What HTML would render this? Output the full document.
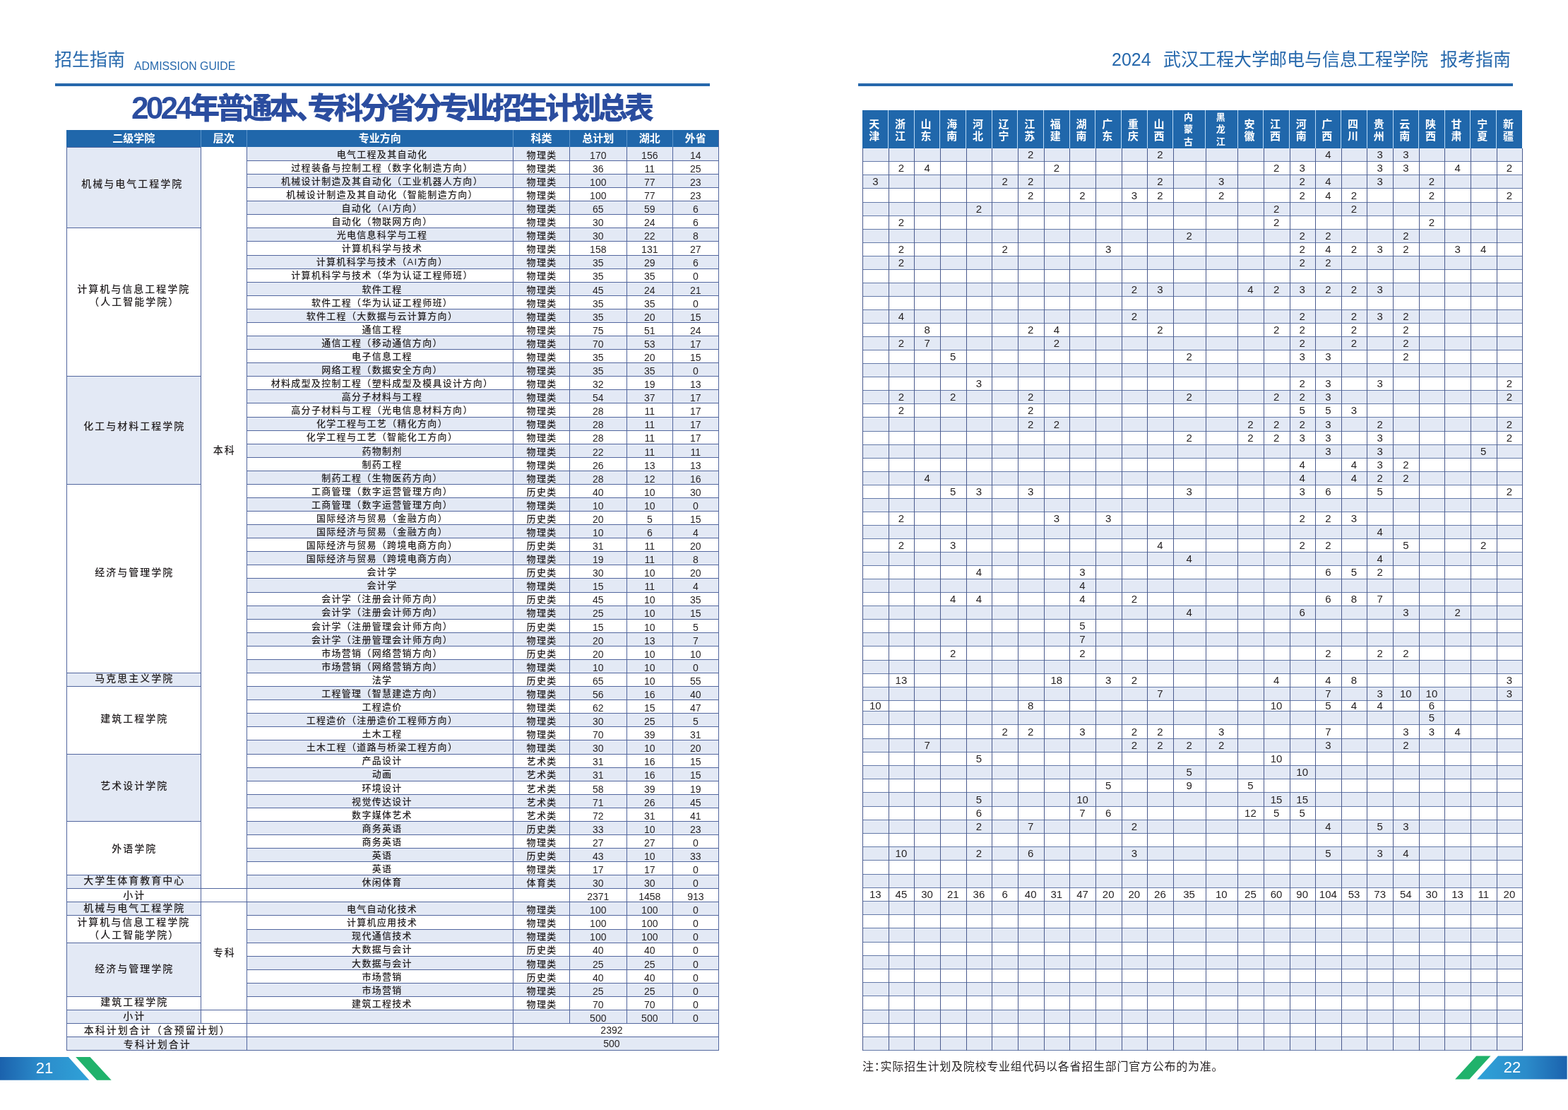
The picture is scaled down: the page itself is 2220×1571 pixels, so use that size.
<!DOCTYPE html>
<html><head><meta charset="utf-8"><title>2024年普通本、专科分省分专业招生计划总表</title>
<style>
html,body{margin:0;padding:0;background:#fff}
body{width:2220px;height:1571px;position:relative;overflow:hidden;font-family:"Liberation Sans","Noto Sans CJK SC",sans-serif;color:#231f20}
.b{position:absolute}
.t{position:absolute;text-align:center;white-space:nowrap}
.hd{color:#fff;font-weight:700;font-size:15px}
.gp{font-size:14px;letter-spacing:2px;font-weight:500}
.gp span{margin-right:-2px}
.two{line-height:18px!important;white-space:normal}
.mj{font-size:13px;letter-spacing:1.3px;font-weight:500}
.mj span{margin-right:-1.3px}
.num{font-size:14px}
.rn{font-size:15px}
.ph{color:#fff;font-weight:700;font-size:15px;white-space:normal}
.hdr{position:absolute;color:#2668ac;white-space:nowrap}
</style></head><body>
<div class="hdr" style="left:77px;top:67px;font-size:25px;line-height:34px">招生指南</div>
<div class="hdr" style="left:190px;top:84px;font-size:17px;line-height:20px;transform:scaleX(0.93);transform-origin:0 0">ADMISSION GUIDE</div>
<div class="b" style="left:78px;top:118px;width:927px;height:3.5px;background:#2668ac"></div>
<div class="hdr" style="left:186px;top:127px;font-size:42px;line-height:52px;font-weight:900;color:#2b4d9f"><span style="font-size:44.4px;letter-spacing:-3.9px;font-weight:700">2024</span><span style="letter-spacing:-4.6px;font-feature-settings:'palt'">年普通本、专科分省分专业招生计划总表</span></div>
<div class="hdr" style="left:1574px;top:67px;font-size:25px;line-height:34px">2024</div>
<div class="hdr" style="left:1647px;top:67px;font-size:25px;line-height:34px">武汉工程大学邮电与信息工程学院</div>
<div class="hdr" style="left:2039px;top:67px;font-size:25px;line-height:34px">报考指南</div>
<div class="b" style="left:1215px;top:118px;width:927px;height:3.5px;background:#2668ac"></div>
<div class="b" style="left:94.2px;top:184.1px;width:923.2px;height:24.3px;background:#2067ab;"></div>
<div class="b" style="left:283.8px;top:184.1px;width:1px;height:24.3px;background:#5b94cb"></div>
<div class="b" style="left:348.7px;top:184.1px;width:1px;height:24.3px;background:#5b94cb"></div>
<div class="b" style="left:726px;top:184.1px;width:1px;height:24.3px;background:#5b94cb"></div>
<div class="b" style="left:805.8px;top:184.1px;width:1px;height:24.3px;background:#5b94cb"></div>
<div class="b" style="left:886.8px;top:184.1px;width:1px;height:24.3px;background:#5b94cb"></div>
<div class="b" style="left:951.8px;top:184.1px;width:1px;height:24.3px;background:#5b94cb"></div>
<div class="t hd" style="left:94.2px;width:190.1px;top:185px;height:22px;line-height:22px;"><span>二级学院</span></div>
<div class="t hd" style="left:284.3px;width:64.9px;top:185px;height:22px;line-height:22px;"><span>层次</span></div>
<div class="t hd" style="left:349.2px;width:377.3px;top:185px;height:22px;line-height:22px;"><span>专业方向</span></div>
<div class="t hd" style="left:726.5px;width:79.8px;top:185px;height:22px;line-height:22px;"><span>科类</span></div>
<div class="t hd" style="left:806.3px;width:81px;top:185px;height:22px;line-height:22px;"><span>总计划</span></div>
<div class="t hd" style="left:887.3px;width:65px;top:185px;height:22px;line-height:22px;"><span>湖北</span></div>
<div class="t hd" style="left:952.3px;width:65.1px;top:185px;height:22px;line-height:22px;"><span>外省</span></div>
<div class="b" style="left:349.2px;top:208.4px;width:668.2px;height:19.08px;background:#e3e9f5;"></div>
<div class="b" style="left:349.2px;top:246.56px;width:668.2px;height:19.08px;background:#e3e9f5;"></div>
<div class="b" style="left:349.2px;top:284.72px;width:668.2px;height:19.08px;background:#e3e9f5;"></div>
<div class="b" style="left:349.2px;top:322.88px;width:668.2px;height:19.08px;background:#e3e9f5;"></div>
<div class="b" style="left:349.2px;top:361.04px;width:668.2px;height:19.08px;background:#e3e9f5;"></div>
<div class="b" style="left:349.2px;top:399.2px;width:668.2px;height:19.08px;background:#e3e9f5;"></div>
<div class="b" style="left:349.2px;top:437.36px;width:668.2px;height:19.08px;background:#e3e9f5;"></div>
<div class="b" style="left:349.2px;top:475.52px;width:668.2px;height:19.08px;background:#e3e9f5;"></div>
<div class="b" style="left:349.2px;top:513.68px;width:668.2px;height:19.08px;background:#e3e9f5;"></div>
<div class="b" style="left:349.2px;top:551.84px;width:668.2px;height:19.08px;background:#e3e9f5;"></div>
<div class="b" style="left:349.2px;top:590px;width:668.2px;height:19.08px;background:#e3e9f5;"></div>
<div class="b" style="left:349.2px;top:628.16px;width:668.2px;height:19.08px;background:#e3e9f5;"></div>
<div class="b" style="left:349.2px;top:666.32px;width:668.2px;height:19.08px;background:#e3e9f5;"></div>
<div class="b" style="left:349.2px;top:704.48px;width:668.2px;height:19.08px;background:#e3e9f5;"></div>
<div class="b" style="left:349.2px;top:742.64px;width:668.2px;height:19.08px;background:#e3e9f5;"></div>
<div class="b" style="left:349.2px;top:780.8px;width:668.2px;height:19.08px;background:#e3e9f5;"></div>
<div class="b" style="left:349.2px;top:818.96px;width:668.2px;height:19.08px;background:#e3e9f5;"></div>
<div class="b" style="left:349.2px;top:857.12px;width:668.2px;height:19.08px;background:#e3e9f5;"></div>
<div class="b" style="left:349.2px;top:895.28px;width:668.2px;height:19.08px;background:#e3e9f5;"></div>
<div class="b" style="left:349.2px;top:933.44px;width:668.2px;height:19.08px;background:#e3e9f5;"></div>
<div class="b" style="left:349.2px;top:971.6px;width:668.2px;height:19.08px;background:#e3e9f5;"></div>
<div class="b" style="left:349.2px;top:1009.76px;width:668.2px;height:19.08px;background:#e3e9f5;"></div>
<div class="b" style="left:349.2px;top:1047.92px;width:668.2px;height:19.08px;background:#e3e9f5;"></div>
<div class="b" style="left:349.2px;top:1086.08px;width:668.2px;height:19.08px;background:#e3e9f5;"></div>
<div class="b" style="left:349.2px;top:1124.24px;width:668.2px;height:19.08px;background:#e3e9f5;"></div>
<div class="b" style="left:349.2px;top:1162.4px;width:668.2px;height:19.08px;background:#e3e9f5;"></div>
<div class="b" style="left:349.2px;top:1200.56px;width:668.2px;height:19.08px;background:#e3e9f5;"></div>
<div class="b" style="left:349.2px;top:1238.72px;width:668.2px;height:19.08px;background:#e3e9f5;"></div>
<div class="b" style="left:349.2px;top:1276.88px;width:668.2px;height:19.08px;background:#e3e9f5;"></div>
<div class="b" style="left:349.2px;top:1315.04px;width:668.2px;height:19.08px;background:#e3e9f5;"></div>
<div class="b" style="left:349.2px;top:1353.2px;width:668.2px;height:19.08px;background:#e3e9f5;"></div>
<div class="b" style="left:349.2px;top:1391.36px;width:668.2px;height:19.08px;background:#e3e9f5;"></div>
<div class="b" style="left:349.2px;top:1429.52px;width:668.2px;height:19.08px;background:#e3e9f5;"></div>
<div class="b" style="left:349.2px;top:1467.68px;width:668.2px;height:19.08px;background:#e3e9f5;"></div>
<div class="b" style="left:94.2px;top:208.4px;width:190.1px;height:114.48px;background:#e3e9f5;"></div>
<div class="b" style="left:94.2px;top:532.76px;width:190.1px;height:152.64px;background:#e3e9f5;"></div>
<div class="b" style="left:94.2px;top:952.52px;width:190.1px;height:19.08px;background:#e3e9f5;"></div>
<div class="b" style="left:94.2px;top:1067px;width:190.1px;height:95.4px;background:#e3e9f5;"></div>
<div class="b" style="left:94.2px;top:1238.72px;width:190.1px;height:19.08px;background:#e3e9f5;"></div>
<div class="b" style="left:94.2px;top:1276.88px;width:190.1px;height:19.08px;background:#e3e9f5;"></div>
<div class="b" style="left:94.2px;top:1334.12px;width:190.1px;height:76.32px;background:#e3e9f5;"></div>
<div class="b" style="left:94.2px;top:1429.52px;width:190.1px;height:19.08px;background:#e3e9f5;"></div>
<div class="b" style="left:94.2px;top:1467.68px;width:255px;height:19.08px;background:#e3e9f5;"></div>
<div class="b" style="left:349.2px;top:226.98px;width:668.2px;height:1px;background:#52669e"></div>
<div class="b" style="left:349.2px;top:246.06px;width:668.2px;height:1px;background:#52669e"></div>
<div class="b" style="left:349.2px;top:265.14px;width:668.2px;height:1px;background:#52669e"></div>
<div class="b" style="left:349.2px;top:284.22px;width:668.2px;height:1px;background:#52669e"></div>
<div class="b" style="left:349.2px;top:303.3px;width:668.2px;height:1px;background:#52669e"></div>
<div class="b" style="left:349.2px;top:322.38px;width:668.2px;height:1px;background:#52669e"></div>
<div class="b" style="left:349.2px;top:341.46px;width:668.2px;height:1px;background:#52669e"></div>
<div class="b" style="left:349.2px;top:360.54px;width:668.2px;height:1px;background:#52669e"></div>
<div class="b" style="left:349.2px;top:379.62px;width:668.2px;height:1px;background:#52669e"></div>
<div class="b" style="left:349.2px;top:398.7px;width:668.2px;height:1px;background:#52669e"></div>
<div class="b" style="left:349.2px;top:417.78px;width:668.2px;height:1px;background:#52669e"></div>
<div class="b" style="left:349.2px;top:436.86px;width:668.2px;height:1px;background:#52669e"></div>
<div class="b" style="left:349.2px;top:455.94px;width:668.2px;height:1px;background:#52669e"></div>
<div class="b" style="left:349.2px;top:475.02px;width:668.2px;height:1px;background:#52669e"></div>
<div class="b" style="left:349.2px;top:494.1px;width:668.2px;height:1px;background:#52669e"></div>
<div class="b" style="left:349.2px;top:513.18px;width:668.2px;height:1px;background:#52669e"></div>
<div class="b" style="left:349.2px;top:532.26px;width:668.2px;height:1px;background:#52669e"></div>
<div class="b" style="left:349.2px;top:551.34px;width:668.2px;height:1px;background:#52669e"></div>
<div class="b" style="left:349.2px;top:570.42px;width:668.2px;height:1px;background:#52669e"></div>
<div class="b" style="left:349.2px;top:589.5px;width:668.2px;height:1px;background:#52669e"></div>
<div class="b" style="left:349.2px;top:608.58px;width:668.2px;height:1px;background:#52669e"></div>
<div class="b" style="left:349.2px;top:627.66px;width:668.2px;height:1px;background:#52669e"></div>
<div class="b" style="left:349.2px;top:646.74px;width:668.2px;height:1px;background:#52669e"></div>
<div class="b" style="left:349.2px;top:665.82px;width:668.2px;height:1px;background:#52669e"></div>
<div class="b" style="left:349.2px;top:684.9px;width:668.2px;height:1px;background:#52669e"></div>
<div class="b" style="left:349.2px;top:703.98px;width:668.2px;height:1px;background:#52669e"></div>
<div class="b" style="left:349.2px;top:723.06px;width:668.2px;height:1px;background:#52669e"></div>
<div class="b" style="left:349.2px;top:742.14px;width:668.2px;height:1px;background:#52669e"></div>
<div class="b" style="left:349.2px;top:761.22px;width:668.2px;height:1px;background:#52669e"></div>
<div class="b" style="left:349.2px;top:780.3px;width:668.2px;height:1px;background:#52669e"></div>
<div class="b" style="left:349.2px;top:799.38px;width:668.2px;height:1px;background:#52669e"></div>
<div class="b" style="left:349.2px;top:818.46px;width:668.2px;height:1px;background:#52669e"></div>
<div class="b" style="left:349.2px;top:837.54px;width:668.2px;height:1px;background:#52669e"></div>
<div class="b" style="left:349.2px;top:856.62px;width:668.2px;height:1px;background:#52669e"></div>
<div class="b" style="left:349.2px;top:875.7px;width:668.2px;height:1px;background:#52669e"></div>
<div class="b" style="left:349.2px;top:894.78px;width:668.2px;height:1px;background:#52669e"></div>
<div class="b" style="left:349.2px;top:913.86px;width:668.2px;height:1px;background:#52669e"></div>
<div class="b" style="left:349.2px;top:932.94px;width:668.2px;height:1px;background:#52669e"></div>
<div class="b" style="left:349.2px;top:952.02px;width:668.2px;height:1px;background:#52669e"></div>
<div class="b" style="left:349.2px;top:971.1px;width:668.2px;height:1px;background:#52669e"></div>
<div class="b" style="left:349.2px;top:990.18px;width:668.2px;height:1px;background:#52669e"></div>
<div class="b" style="left:349.2px;top:1009.26px;width:668.2px;height:1px;background:#52669e"></div>
<div class="b" style="left:349.2px;top:1028.34px;width:668.2px;height:1px;background:#52669e"></div>
<div class="b" style="left:349.2px;top:1047.42px;width:668.2px;height:1px;background:#52669e"></div>
<div class="b" style="left:349.2px;top:1066.5px;width:668.2px;height:1px;background:#52669e"></div>
<div class="b" style="left:349.2px;top:1085.58px;width:668.2px;height:1px;background:#52669e"></div>
<div class="b" style="left:349.2px;top:1104.66px;width:668.2px;height:1px;background:#52669e"></div>
<div class="b" style="left:349.2px;top:1123.74px;width:668.2px;height:1px;background:#52669e"></div>
<div class="b" style="left:349.2px;top:1142.82px;width:668.2px;height:1px;background:#52669e"></div>
<div class="b" style="left:349.2px;top:1161.9px;width:668.2px;height:1px;background:#52669e"></div>
<div class="b" style="left:349.2px;top:1180.98px;width:668.2px;height:1px;background:#52669e"></div>
<div class="b" style="left:349.2px;top:1200.06px;width:668.2px;height:1px;background:#52669e"></div>
<div class="b" style="left:349.2px;top:1219.14px;width:668.2px;height:1px;background:#52669e"></div>
<div class="b" style="left:349.2px;top:1238.22px;width:668.2px;height:1px;background:#52669e"></div>
<div class="b" style="left:349.2px;top:1257.3px;width:668.2px;height:1px;background:#52669e"></div>
<div class="b" style="left:349.2px;top:1276.38px;width:668.2px;height:1px;background:#52669e"></div>
<div class="b" style="left:349.2px;top:1295.46px;width:668.2px;height:1px;background:#52669e"></div>
<div class="b" style="left:349.2px;top:1314.54px;width:668.2px;height:1px;background:#52669e"></div>
<div class="b" style="left:349.2px;top:1333.62px;width:668.2px;height:1px;background:#52669e"></div>
<div class="b" style="left:349.2px;top:1352.7px;width:668.2px;height:1px;background:#52669e"></div>
<div class="b" style="left:349.2px;top:1371.78px;width:668.2px;height:1px;background:#52669e"></div>
<div class="b" style="left:349.2px;top:1390.86px;width:668.2px;height:1px;background:#52669e"></div>
<div class="b" style="left:349.2px;top:1409.94px;width:668.2px;height:1px;background:#52669e"></div>
<div class="b" style="left:349.2px;top:1429.02px;width:668.2px;height:1px;background:#52669e"></div>
<div class="b" style="left:349.2px;top:1448.1px;width:668.2px;height:1px;background:#52669e"></div>
<div class="b" style="left:349.2px;top:1467.18px;width:668.2px;height:1px;background:#52669e"></div>
<div class="b" style="left:94.2px;top:207.9px;width:190.1px;height:1px;background:#52669e"></div>
<div class="b" style="left:94.2px;top:322.38px;width:190.1px;height:1px;background:#52669e"></div>
<div class="b" style="left:94.2px;top:532.26px;width:190.1px;height:1px;background:#52669e"></div>
<div class="b" style="left:94.2px;top:684.9px;width:190.1px;height:1px;background:#52669e"></div>
<div class="b" style="left:94.2px;top:952.02px;width:190.1px;height:1px;background:#52669e"></div>
<div class="b" style="left:94.2px;top:971.1px;width:190.1px;height:1px;background:#52669e"></div>
<div class="b" style="left:94.2px;top:1066.5px;width:190.1px;height:1px;background:#52669e"></div>
<div class="b" style="left:94.2px;top:1161.9px;width:190.1px;height:1px;background:#52669e"></div>
<div class="b" style="left:94.2px;top:1238.22px;width:190.1px;height:1px;background:#52669e"></div>
<div class="b" style="left:94.2px;top:1257.3px;width:190.1px;height:1px;background:#52669e"></div>
<div class="b" style="left:94.2px;top:1276.38px;width:190.1px;height:1px;background:#52669e"></div>
<div class="b" style="left:94.2px;top:1295.46px;width:190.1px;height:1px;background:#52669e"></div>
<div class="b" style="left:94.2px;top:1333.62px;width:190.1px;height:1px;background:#52669e"></div>
<div class="b" style="left:94.2px;top:1409.94px;width:190.1px;height:1px;background:#52669e"></div>
<div class="b" style="left:94.2px;top:1429.02px;width:190.1px;height:1px;background:#52669e"></div>
<div class="b" style="left:94.2px;top:1448.1px;width:255px;height:1px;background:#52669e"></div>
<div class="b" style="left:94.2px;top:1467.18px;width:255px;height:1px;background:#52669e"></div>
<div class="b" style="left:284.3px;top:1257.3px;width:64.9px;height:1px;background:#52669e"></div>
<div class="b" style="left:284.3px;top:1276.38px;width:64.9px;height:1px;background:#52669e"></div>
<div class="b" style="left:284.3px;top:1429.02px;width:64.9px;height:1px;background:#52669e"></div>
<div class="b" style="left:94.2px;top:1486.26px;width:923.2px;height:1px;background:#52669e"></div>
<div class="b" style="left:93.7px;top:208.4px;width:1px;height:1278.36px;background:#52669e"></div>
<div class="b" style="left:1016.9px;top:184.1px;width:1px;height:1302.66px;background:#52669e"></div>
<div class="b" style="left:283.8px;top:208.4px;width:1px;height:1240.2px;background:#52669e"></div>
<div class="b" style="left:348.7px;top:208.4px;width:1px;height:1278.36px;background:#52669e"></div>
<div class="b" style="left:726px;top:208.4px;width:1px;height:1278.36px;background:#52669e"></div>
<div class="b" style="left:805.8px;top:208.4px;width:1px;height:1240.2px;background:#52669e"></div>
<div class="b" style="left:886.8px;top:208.4px;width:1px;height:1240.2px;background:#52669e"></div>
<div class="b" style="left:951.8px;top:208.4px;width:1px;height:1240.2px;background:#52669e"></div>
<div class="t gp" style="left:91.2px;width:190.1px;top:249.8px;height:20px;line-height:20px;"><span>机械与电气工程学院</span></div>
<div class="t gp two" style="left:94.2px;width:190.1px;top:399.6px;height:36px;line-height:36px;"><span>计算机与信息工程学院<br>（人工智能学院）</span></div>
<div class="t gp" style="left:94.2px;width:190.1px;top:592.7px;height:20px;line-height:20px;"><span>化工与材料工程学院</span></div>
<div class="t gp" style="left:94.2px;width:190.1px;top:799.6px;height:20px;line-height:20px;"><span>经济与管理学院</span></div>
<div class="t gp" style="left:94.2px;width:190.1px;top:950.3px;height:20px;line-height:20px;"><span>马克思主义学院</span></div>
<div class="t gp" style="left:94.2px;width:190.1px;top:1007.2px;height:20px;line-height:20px;"><span>建筑工程学院</span></div>
<div class="t gp" style="left:94.2px;width:190.1px;top:1101.9px;height:20px;line-height:20px;"><span>艺术设计学院</span></div>
<div class="t gp" style="left:94.2px;width:190.1px;top:1191.1px;height:20px;line-height:20px;"><span>外语学院</span></div>
<div class="t gp" style="left:94.2px;width:190.1px;top:1236.4px;height:20px;line-height:20px;"><span>大学生体育教育中心</span></div>
<div class="t gp" style="left:94.2px;width:190.1px;top:1257px;height:20px;line-height:20px;"><span>小计</span></div>
<div class="t gp" style="left:94.2px;width:190.1px;top:1274.7px;height:20px;line-height:20px;"><span>机械与电气工程学院</span></div>
<div class="t gp two" style="left:94.2px;width:190.1px;top:1296.4px;height:36px;line-height:36px;"><span>计算机与信息工程学院<br>（人工智能学院）</span></div>
<div class="t gp" style="left:94.2px;width:190.1px;top:1361.4px;height:20px;line-height:20px;"><span>经济与管理学院</span></div>
<div class="t gp" style="left:94.2px;width:190.1px;top:1408.4px;height:20px;line-height:20px;"><span>建筑工程学院</span></div>
<div class="t gp" style="left:94.2px;width:190.1px;top:1427.5px;height:20px;line-height:20px;"><span>小计</span></div>
<div class="t gp" style="left:284.3px;width:64.9px;top:626.5px;height:20px;line-height:20px;"><span>本科</span></div>
<div class="t gp" style="left:284.3px;width:64.9px;top:1338.3px;height:20px;line-height:20px;"><span>专科</span></div>
<div class="t gp" style="left:94.2px;width:255px;top:1447.84px;height:20px;line-height:20px;"><span>本科计划合计（含预留计划）</span></div>
<div class="t gp" style="left:94.2px;width:255px;top:1467.92px;height:20px;line-height:20px;"><span>专科计划合计</span></div>
<div class="t num" style="left:726.5px;width:278.9px;top:1448.14px;height:20px;line-height:20px;"><span>2392</span></div>
<div class="t num" style="left:726.5px;width:278.9px;top:1467.22px;height:20px;line-height:20px;"><span>500</span></div>
<div class="t mj" style="left:351.7px;width:377.3px;top:208.74px;height:20px;line-height:20px;"><span>电气工程及其自动化</span></div>
<div class="t mj" style="left:726.5px;width:79.8px;top:209.74px;height:20px;line-height:20px;"><span>物理类</span></div>
<div class="t num" style="left:806.3px;width:81px;top:209.74px;height:20px;line-height:20px;"><span>170</span></div>
<div class="t num" style="left:887.3px;width:65px;top:209.74px;height:20px;line-height:20px;"><span>156</span></div>
<div class="t num" style="left:952.3px;width:65.1px;top:209.74px;height:20px;line-height:20px;"><span>14</span></div>
<div class="t mj" style="left:351.7px;width:377.3px;top:227.82px;height:20px;line-height:20px;"><span>过程装备与控制工程（数字化制造方向）</span></div>
<div class="t mj" style="left:726.5px;width:79.8px;top:228.82px;height:20px;line-height:20px;"><span>物理类</span></div>
<div class="t num" style="left:806.3px;width:81px;top:228.82px;height:20px;line-height:20px;"><span>36</span></div>
<div class="t num" style="left:887.3px;width:65px;top:228.82px;height:20px;line-height:20px;"><span>11</span></div>
<div class="t num" style="left:952.3px;width:65.1px;top:228.82px;height:20px;line-height:20px;"><span>25</span></div>
<div class="t mj" style="left:351.7px;width:377.3px;top:246.9px;height:20px;line-height:20px;"><span>机械设计制造及其自动化（工业机器人方向）</span></div>
<div class="t mj" style="left:726.5px;width:79.8px;top:247.9px;height:20px;line-height:20px;"><span>物理类</span></div>
<div class="t num" style="left:806.3px;width:81px;top:247.9px;height:20px;line-height:20px;"><span>100</span></div>
<div class="t num" style="left:887.3px;width:65px;top:247.9px;height:20px;line-height:20px;"><span>77</span></div>
<div class="t num" style="left:952.3px;width:65.1px;top:247.9px;height:20px;line-height:20px;"><span>23</span></div>
<div class="t mj" style="left:351.7px;width:377.3px;top:265.98px;height:20px;line-height:20px;"><span>机械设计制造及其自动化（智能制造方向）</span></div>
<div class="t mj" style="left:726.5px;width:79.8px;top:266.98px;height:20px;line-height:20px;"><span>物理类</span></div>
<div class="t num" style="left:806.3px;width:81px;top:266.98px;height:20px;line-height:20px;"><span>100</span></div>
<div class="t num" style="left:887.3px;width:65px;top:266.98px;height:20px;line-height:20px;"><span>77</span></div>
<div class="t num" style="left:952.3px;width:65.1px;top:266.98px;height:20px;line-height:20px;"><span>23</span></div>
<div class="t mj" style="left:351.7px;width:377.3px;top:285.06px;height:20px;line-height:20px;"><span>自动化（AI方向）</span></div>
<div class="t mj" style="left:726.5px;width:79.8px;top:286.06px;height:20px;line-height:20px;"><span>物理类</span></div>
<div class="t num" style="left:806.3px;width:81px;top:286.06px;height:20px;line-height:20px;"><span>65</span></div>
<div class="t num" style="left:887.3px;width:65px;top:286.06px;height:20px;line-height:20px;"><span>59</span></div>
<div class="t num" style="left:952.3px;width:65.1px;top:286.06px;height:20px;line-height:20px;"><span>6</span></div>
<div class="t mj" style="left:351.7px;width:377.3px;top:304.14px;height:20px;line-height:20px;"><span>自动化（物联网方向）</span></div>
<div class="t mj" style="left:726.5px;width:79.8px;top:305.14px;height:20px;line-height:20px;"><span>物理类</span></div>
<div class="t num" style="left:806.3px;width:81px;top:305.14px;height:20px;line-height:20px;"><span>30</span></div>
<div class="t num" style="left:887.3px;width:65px;top:305.14px;height:20px;line-height:20px;"><span>24</span></div>
<div class="t num" style="left:952.3px;width:65.1px;top:305.14px;height:20px;line-height:20px;"><span>6</span></div>
<div class="t mj" style="left:351.7px;width:377.3px;top:323.22px;height:20px;line-height:20px;"><span>光电信息科学与工程</span></div>
<div class="t mj" style="left:726.5px;width:79.8px;top:324.22px;height:20px;line-height:20px;"><span>物理类</span></div>
<div class="t num" style="left:806.3px;width:81px;top:324.22px;height:20px;line-height:20px;"><span>30</span></div>
<div class="t num" style="left:887.3px;width:65px;top:324.22px;height:20px;line-height:20px;"><span>22</span></div>
<div class="t num" style="left:952.3px;width:65.1px;top:324.22px;height:20px;line-height:20px;"><span>8</span></div>
<div class="t mj" style="left:351.7px;width:377.3px;top:342.3px;height:20px;line-height:20px;"><span>计算机科学与技术</span></div>
<div class="t mj" style="left:726.5px;width:79.8px;top:343.3px;height:20px;line-height:20px;"><span>物理类</span></div>
<div class="t num" style="left:806.3px;width:81px;top:343.3px;height:20px;line-height:20px;"><span>158</span></div>
<div class="t num" style="left:887.3px;width:65px;top:343.3px;height:20px;line-height:20px;"><span>131</span></div>
<div class="t num" style="left:952.3px;width:65.1px;top:343.3px;height:20px;line-height:20px;"><span>27</span></div>
<div class="t mj" style="left:351.7px;width:377.3px;top:361.38px;height:20px;line-height:20px;"><span>计算机科学与技术（AI方向）</span></div>
<div class="t mj" style="left:726.5px;width:79.8px;top:362.38px;height:20px;line-height:20px;"><span>物理类</span></div>
<div class="t num" style="left:806.3px;width:81px;top:362.38px;height:20px;line-height:20px;"><span>35</span></div>
<div class="t num" style="left:887.3px;width:65px;top:362.38px;height:20px;line-height:20px;"><span>29</span></div>
<div class="t num" style="left:952.3px;width:65.1px;top:362.38px;height:20px;line-height:20px;"><span>6</span></div>
<div class="t mj" style="left:351.7px;width:377.3px;top:380.46px;height:20px;line-height:20px;"><span>计算机科学与技术（华为认证工程师班）</span></div>
<div class="t mj" style="left:726.5px;width:79.8px;top:381.46px;height:20px;line-height:20px;"><span>物理类</span></div>
<div class="t num" style="left:806.3px;width:81px;top:381.46px;height:20px;line-height:20px;"><span>35</span></div>
<div class="t num" style="left:887.3px;width:65px;top:381.46px;height:20px;line-height:20px;"><span>35</span></div>
<div class="t num" style="left:952.3px;width:65.1px;top:381.46px;height:20px;line-height:20px;"><span>0</span></div>
<div class="t mj" style="left:351.7px;width:377.3px;top:399.54px;height:20px;line-height:20px;"><span>软件工程</span></div>
<div class="t mj" style="left:726.5px;width:79.8px;top:400.54px;height:20px;line-height:20px;"><span>物理类</span></div>
<div class="t num" style="left:806.3px;width:81px;top:400.54px;height:20px;line-height:20px;"><span>45</span></div>
<div class="t num" style="left:887.3px;width:65px;top:400.54px;height:20px;line-height:20px;"><span>24</span></div>
<div class="t num" style="left:952.3px;width:65.1px;top:400.54px;height:20px;line-height:20px;"><span>21</span></div>
<div class="t mj" style="left:351.7px;width:377.3px;top:418.62px;height:20px;line-height:20px;"><span>软件工程（华为认证工程师班）</span></div>
<div class="t mj" style="left:726.5px;width:79.8px;top:419.62px;height:20px;line-height:20px;"><span>物理类</span></div>
<div class="t num" style="left:806.3px;width:81px;top:419.62px;height:20px;line-height:20px;"><span>35</span></div>
<div class="t num" style="left:887.3px;width:65px;top:419.62px;height:20px;line-height:20px;"><span>35</span></div>
<div class="t num" style="left:952.3px;width:65.1px;top:419.62px;height:20px;line-height:20px;"><span>0</span></div>
<div class="t mj" style="left:351.7px;width:377.3px;top:437.7px;height:20px;line-height:20px;"><span>软件工程（大数据与云计算方向）</span></div>
<div class="t mj" style="left:726.5px;width:79.8px;top:438.7px;height:20px;line-height:20px;"><span>物理类</span></div>
<div class="t num" style="left:806.3px;width:81px;top:438.7px;height:20px;line-height:20px;"><span>35</span></div>
<div class="t num" style="left:887.3px;width:65px;top:438.7px;height:20px;line-height:20px;"><span>20</span></div>
<div class="t num" style="left:952.3px;width:65.1px;top:438.7px;height:20px;line-height:20px;"><span>15</span></div>
<div class="t mj" style="left:351.7px;width:377.3px;top:456.78px;height:20px;line-height:20px;"><span>通信工程</span></div>
<div class="t mj" style="left:726.5px;width:79.8px;top:457.78px;height:20px;line-height:20px;"><span>物理类</span></div>
<div class="t num" style="left:806.3px;width:81px;top:457.78px;height:20px;line-height:20px;"><span>75</span></div>
<div class="t num" style="left:887.3px;width:65px;top:457.78px;height:20px;line-height:20px;"><span>51</span></div>
<div class="t num" style="left:952.3px;width:65.1px;top:457.78px;height:20px;line-height:20px;"><span>24</span></div>
<div class="t mj" style="left:351.7px;width:377.3px;top:475.86px;height:20px;line-height:20px;"><span>通信工程（移动通信方向）</span></div>
<div class="t mj" style="left:726.5px;width:79.8px;top:476.86px;height:20px;line-height:20px;"><span>物理类</span></div>
<div class="t num" style="left:806.3px;width:81px;top:476.86px;height:20px;line-height:20px;"><span>70</span></div>
<div class="t num" style="left:887.3px;width:65px;top:476.86px;height:20px;line-height:20px;"><span>53</span></div>
<div class="t num" style="left:952.3px;width:65.1px;top:476.86px;height:20px;line-height:20px;"><span>17</span></div>
<div class="t mj" style="left:351.7px;width:377.3px;top:494.94px;height:20px;line-height:20px;"><span>电子信息工程</span></div>
<div class="t mj" style="left:726.5px;width:79.8px;top:495.94px;height:20px;line-height:20px;"><span>物理类</span></div>
<div class="t num" style="left:806.3px;width:81px;top:495.94px;height:20px;line-height:20px;"><span>35</span></div>
<div class="t num" style="left:887.3px;width:65px;top:495.94px;height:20px;line-height:20px;"><span>20</span></div>
<div class="t num" style="left:952.3px;width:65.1px;top:495.94px;height:20px;line-height:20px;"><span>15</span></div>
<div class="t mj" style="left:351.7px;width:377.3px;top:514.02px;height:20px;line-height:20px;"><span>网络工程（数据安全方向）</span></div>
<div class="t mj" style="left:726.5px;width:79.8px;top:515.02px;height:20px;line-height:20px;"><span>物理类</span></div>
<div class="t num" style="left:806.3px;width:81px;top:515.02px;height:20px;line-height:20px;"><span>35</span></div>
<div class="t num" style="left:887.3px;width:65px;top:515.02px;height:20px;line-height:20px;"><span>35</span></div>
<div class="t num" style="left:952.3px;width:65.1px;top:515.02px;height:20px;line-height:20px;"><span>0</span></div>
<div class="t mj" style="left:351.7px;width:377.3px;top:533.1px;height:20px;line-height:20px;"><span>材料成型及控制工程（塑料成型及模具设计方向）</span></div>
<div class="t mj" style="left:726.5px;width:79.8px;top:534.1px;height:20px;line-height:20px;"><span>物理类</span></div>
<div class="t num" style="left:806.3px;width:81px;top:534.1px;height:20px;line-height:20px;"><span>32</span></div>
<div class="t num" style="left:887.3px;width:65px;top:534.1px;height:20px;line-height:20px;"><span>19</span></div>
<div class="t num" style="left:952.3px;width:65.1px;top:534.1px;height:20px;line-height:20px;"><span>13</span></div>
<div class="t mj" style="left:351.7px;width:377.3px;top:552.18px;height:20px;line-height:20px;"><span>高分子材料与工程</span></div>
<div class="t mj" style="left:726.5px;width:79.8px;top:553.18px;height:20px;line-height:20px;"><span>物理类</span></div>
<div class="t num" style="left:806.3px;width:81px;top:553.18px;height:20px;line-height:20px;"><span>54</span></div>
<div class="t num" style="left:887.3px;width:65px;top:553.18px;height:20px;line-height:20px;"><span>37</span></div>
<div class="t num" style="left:952.3px;width:65.1px;top:553.18px;height:20px;line-height:20px;"><span>17</span></div>
<div class="t mj" style="left:351.7px;width:377.3px;top:571.26px;height:20px;line-height:20px;"><span>高分子材料与工程（光电信息材料方向）</span></div>
<div class="t mj" style="left:726.5px;width:79.8px;top:572.26px;height:20px;line-height:20px;"><span>物理类</span></div>
<div class="t num" style="left:806.3px;width:81px;top:572.26px;height:20px;line-height:20px;"><span>28</span></div>
<div class="t num" style="left:887.3px;width:65px;top:572.26px;height:20px;line-height:20px;"><span>11</span></div>
<div class="t num" style="left:952.3px;width:65.1px;top:572.26px;height:20px;line-height:20px;"><span>17</span></div>
<div class="t mj" style="left:351.7px;width:377.3px;top:590.34px;height:20px;line-height:20px;"><span>化学工程与工艺（精化方向）</span></div>
<div class="t mj" style="left:726.5px;width:79.8px;top:591.34px;height:20px;line-height:20px;"><span>物理类</span></div>
<div class="t num" style="left:806.3px;width:81px;top:591.34px;height:20px;line-height:20px;"><span>28</span></div>
<div class="t num" style="left:887.3px;width:65px;top:591.34px;height:20px;line-height:20px;"><span>11</span></div>
<div class="t num" style="left:952.3px;width:65.1px;top:591.34px;height:20px;line-height:20px;"><span>17</span></div>
<div class="t mj" style="left:351.7px;width:377.3px;top:609.42px;height:20px;line-height:20px;"><span>化学工程与工艺（智能化工方向）</span></div>
<div class="t mj" style="left:726.5px;width:79.8px;top:610.42px;height:20px;line-height:20px;"><span>物理类</span></div>
<div class="t num" style="left:806.3px;width:81px;top:610.42px;height:20px;line-height:20px;"><span>28</span></div>
<div class="t num" style="left:887.3px;width:65px;top:610.42px;height:20px;line-height:20px;"><span>11</span></div>
<div class="t num" style="left:952.3px;width:65.1px;top:610.42px;height:20px;line-height:20px;"><span>17</span></div>
<div class="t mj" style="left:351.7px;width:377.3px;top:628.5px;height:20px;line-height:20px;"><span>药物制剂</span></div>
<div class="t mj" style="left:726.5px;width:79.8px;top:629.5px;height:20px;line-height:20px;"><span>物理类</span></div>
<div class="t num" style="left:806.3px;width:81px;top:629.5px;height:20px;line-height:20px;"><span>22</span></div>
<div class="t num" style="left:887.3px;width:65px;top:629.5px;height:20px;line-height:20px;"><span>11</span></div>
<div class="t num" style="left:952.3px;width:65.1px;top:629.5px;height:20px;line-height:20px;"><span>11</span></div>
<div class="t mj" style="left:351.7px;width:377.3px;top:647.58px;height:20px;line-height:20px;"><span>制药工程</span></div>
<div class="t mj" style="left:726.5px;width:79.8px;top:648.58px;height:20px;line-height:20px;"><span>物理类</span></div>
<div class="t num" style="left:806.3px;width:81px;top:648.58px;height:20px;line-height:20px;"><span>26</span></div>
<div class="t num" style="left:887.3px;width:65px;top:648.58px;height:20px;line-height:20px;"><span>13</span></div>
<div class="t num" style="left:952.3px;width:65.1px;top:648.58px;height:20px;line-height:20px;"><span>13</span></div>
<div class="t mj" style="left:351.7px;width:377.3px;top:666.66px;height:20px;line-height:20px;"><span>制药工程（生物医药方向）</span></div>
<div class="t mj" style="left:726.5px;width:79.8px;top:667.66px;height:20px;line-height:20px;"><span>物理类</span></div>
<div class="t num" style="left:806.3px;width:81px;top:667.66px;height:20px;line-height:20px;"><span>28</span></div>
<div class="t num" style="left:887.3px;width:65px;top:667.66px;height:20px;line-height:20px;"><span>12</span></div>
<div class="t num" style="left:952.3px;width:65.1px;top:667.66px;height:20px;line-height:20px;"><span>16</span></div>
<div class="t mj" style="left:351.7px;width:377.3px;top:685.74px;height:20px;line-height:20px;"><span>工商管理（数字运营管理方向）</span></div>
<div class="t mj" style="left:726.5px;width:79.8px;top:686.74px;height:20px;line-height:20px;"><span>历史类</span></div>
<div class="t num" style="left:806.3px;width:81px;top:686.74px;height:20px;line-height:20px;"><span>40</span></div>
<div class="t num" style="left:887.3px;width:65px;top:686.74px;height:20px;line-height:20px;"><span>10</span></div>
<div class="t num" style="left:952.3px;width:65.1px;top:686.74px;height:20px;line-height:20px;"><span>30</span></div>
<div class="t mj" style="left:351.7px;width:377.3px;top:704.82px;height:20px;line-height:20px;"><span>工商管理（数字运营管理方向）</span></div>
<div class="t mj" style="left:726.5px;width:79.8px;top:705.82px;height:20px;line-height:20px;"><span>物理类</span></div>
<div class="t num" style="left:806.3px;width:81px;top:705.82px;height:20px;line-height:20px;"><span>10</span></div>
<div class="t num" style="left:887.3px;width:65px;top:705.82px;height:20px;line-height:20px;"><span>10</span></div>
<div class="t num" style="left:952.3px;width:65.1px;top:705.82px;height:20px;line-height:20px;"><span>0</span></div>
<div class="t mj" style="left:351.7px;width:377.3px;top:723.9px;height:20px;line-height:20px;"><span>国际经济与贸易（金融方向）</span></div>
<div class="t mj" style="left:726.5px;width:79.8px;top:724.9px;height:20px;line-height:20px;"><span>历史类</span></div>
<div class="t num" style="left:806.3px;width:81px;top:724.9px;height:20px;line-height:20px;"><span>20</span></div>
<div class="t num" style="left:887.3px;width:65px;top:724.9px;height:20px;line-height:20px;"><span>5</span></div>
<div class="t num" style="left:952.3px;width:65.1px;top:724.9px;height:20px;line-height:20px;"><span>15</span></div>
<div class="t mj" style="left:351.7px;width:377.3px;top:742.98px;height:20px;line-height:20px;"><span>国际经济与贸易（金融方向）</span></div>
<div class="t mj" style="left:726.5px;width:79.8px;top:743.98px;height:20px;line-height:20px;"><span>物理类</span></div>
<div class="t num" style="left:806.3px;width:81px;top:743.98px;height:20px;line-height:20px;"><span>10</span></div>
<div class="t num" style="left:887.3px;width:65px;top:743.98px;height:20px;line-height:20px;"><span>6</span></div>
<div class="t num" style="left:952.3px;width:65.1px;top:743.98px;height:20px;line-height:20px;"><span>4</span></div>
<div class="t mj" style="left:351.7px;width:377.3px;top:762.06px;height:20px;line-height:20px;"><span>国际经济与贸易（跨境电商方向）</span></div>
<div class="t mj" style="left:726.5px;width:79.8px;top:763.06px;height:20px;line-height:20px;"><span>历史类</span></div>
<div class="t num" style="left:806.3px;width:81px;top:763.06px;height:20px;line-height:20px;"><span>31</span></div>
<div class="t num" style="left:887.3px;width:65px;top:763.06px;height:20px;line-height:20px;"><span>11</span></div>
<div class="t num" style="left:952.3px;width:65.1px;top:763.06px;height:20px;line-height:20px;"><span>20</span></div>
<div class="t mj" style="left:351.7px;width:377.3px;top:781.14px;height:20px;line-height:20px;"><span>国际经济与贸易（跨境电商方向）</span></div>
<div class="t mj" style="left:726.5px;width:79.8px;top:782.14px;height:20px;line-height:20px;"><span>物理类</span></div>
<div class="t num" style="left:806.3px;width:81px;top:782.14px;height:20px;line-height:20px;"><span>19</span></div>
<div class="t num" style="left:887.3px;width:65px;top:782.14px;height:20px;line-height:20px;"><span>11</span></div>
<div class="t num" style="left:952.3px;width:65.1px;top:782.14px;height:20px;line-height:20px;"><span>8</span></div>
<div class="t mj" style="left:351.7px;width:377.3px;top:800.22px;height:20px;line-height:20px;"><span>会计学</span></div>
<div class="t mj" style="left:726.5px;width:79.8px;top:801.22px;height:20px;line-height:20px;"><span>历史类</span></div>
<div class="t num" style="left:806.3px;width:81px;top:801.22px;height:20px;line-height:20px;"><span>30</span></div>
<div class="t num" style="left:887.3px;width:65px;top:801.22px;height:20px;line-height:20px;"><span>10</span></div>
<div class="t num" style="left:952.3px;width:65.1px;top:801.22px;height:20px;line-height:20px;"><span>20</span></div>
<div class="t mj" style="left:351.7px;width:377.3px;top:819.3px;height:20px;line-height:20px;"><span>会计学</span></div>
<div class="t mj" style="left:726.5px;width:79.8px;top:820.3px;height:20px;line-height:20px;"><span>物理类</span></div>
<div class="t num" style="left:806.3px;width:81px;top:820.3px;height:20px;line-height:20px;"><span>15</span></div>
<div class="t num" style="left:887.3px;width:65px;top:820.3px;height:20px;line-height:20px;"><span>11</span></div>
<div class="t num" style="left:952.3px;width:65.1px;top:820.3px;height:20px;line-height:20px;"><span>4</span></div>
<div class="t mj" style="left:351.7px;width:377.3px;top:838.38px;height:20px;line-height:20px;"><span>会计学（注册会计师方向）</span></div>
<div class="t mj" style="left:726.5px;width:79.8px;top:839.38px;height:20px;line-height:20px;"><span>历史类</span></div>
<div class="t num" style="left:806.3px;width:81px;top:839.38px;height:20px;line-height:20px;"><span>45</span></div>
<div class="t num" style="left:887.3px;width:65px;top:839.38px;height:20px;line-height:20px;"><span>10</span></div>
<div class="t num" style="left:952.3px;width:65.1px;top:839.38px;height:20px;line-height:20px;"><span>35</span></div>
<div class="t mj" style="left:351.7px;width:377.3px;top:857.46px;height:20px;line-height:20px;"><span>会计学（注册会计师方向）</span></div>
<div class="t mj" style="left:726.5px;width:79.8px;top:858.46px;height:20px;line-height:20px;"><span>物理类</span></div>
<div class="t num" style="left:806.3px;width:81px;top:858.46px;height:20px;line-height:20px;"><span>25</span></div>
<div class="t num" style="left:887.3px;width:65px;top:858.46px;height:20px;line-height:20px;"><span>10</span></div>
<div class="t num" style="left:952.3px;width:65.1px;top:858.46px;height:20px;line-height:20px;"><span>15</span></div>
<div class="t mj" style="left:351.7px;width:377.3px;top:876.54px;height:20px;line-height:20px;"><span>会计学（注册管理会计师方向）</span></div>
<div class="t mj" style="left:726.5px;width:79.8px;top:877.54px;height:20px;line-height:20px;"><span>历史类</span></div>
<div class="t num" style="left:806.3px;width:81px;top:877.54px;height:20px;line-height:20px;"><span>15</span></div>
<div class="t num" style="left:887.3px;width:65px;top:877.54px;height:20px;line-height:20px;"><span>10</span></div>
<div class="t num" style="left:952.3px;width:65.1px;top:877.54px;height:20px;line-height:20px;"><span>5</span></div>
<div class="t mj" style="left:351.7px;width:377.3px;top:895.62px;height:20px;line-height:20px;"><span>会计学（注册管理会计师方向）</span></div>
<div class="t mj" style="left:726.5px;width:79.8px;top:896.62px;height:20px;line-height:20px;"><span>物理类</span></div>
<div class="t num" style="left:806.3px;width:81px;top:896.62px;height:20px;line-height:20px;"><span>20</span></div>
<div class="t num" style="left:887.3px;width:65px;top:896.62px;height:20px;line-height:20px;"><span>13</span></div>
<div class="t num" style="left:952.3px;width:65.1px;top:896.62px;height:20px;line-height:20px;"><span>7</span></div>
<div class="t mj" style="left:351.7px;width:377.3px;top:914.7px;height:20px;line-height:20px;"><span>市场营销（网络营销方向）</span></div>
<div class="t mj" style="left:726.5px;width:79.8px;top:915.7px;height:20px;line-height:20px;"><span>历史类</span></div>
<div class="t num" style="left:806.3px;width:81px;top:915.7px;height:20px;line-height:20px;"><span>20</span></div>
<div class="t num" style="left:887.3px;width:65px;top:915.7px;height:20px;line-height:20px;"><span>10</span></div>
<div class="t num" style="left:952.3px;width:65.1px;top:915.7px;height:20px;line-height:20px;"><span>10</span></div>
<div class="t mj" style="left:351.7px;width:377.3px;top:933.78px;height:20px;line-height:20px;"><span>市场营销（网络营销方向）</span></div>
<div class="t mj" style="left:726.5px;width:79.8px;top:934.78px;height:20px;line-height:20px;"><span>物理类</span></div>
<div class="t num" style="left:806.3px;width:81px;top:934.78px;height:20px;line-height:20px;"><span>10</span></div>
<div class="t num" style="left:887.3px;width:65px;top:934.78px;height:20px;line-height:20px;"><span>10</span></div>
<div class="t num" style="left:952.3px;width:65.1px;top:934.78px;height:20px;line-height:20px;"><span>0</span></div>
<div class="t mj" style="left:351.7px;width:377.3px;top:952.86px;height:20px;line-height:20px;"><span>法学</span></div>
<div class="t mj" style="left:726.5px;width:79.8px;top:953.86px;height:20px;line-height:20px;"><span>历史类</span></div>
<div class="t num" style="left:806.3px;width:81px;top:953.86px;height:20px;line-height:20px;"><span>65</span></div>
<div class="t num" style="left:887.3px;width:65px;top:953.86px;height:20px;line-height:20px;"><span>10</span></div>
<div class="t num" style="left:952.3px;width:65.1px;top:953.86px;height:20px;line-height:20px;"><span>55</span></div>
<div class="t mj" style="left:351.7px;width:377.3px;top:971.94px;height:20px;line-height:20px;"><span>工程管理（智慧建造方向）</span></div>
<div class="t mj" style="left:726.5px;width:79.8px;top:972.94px;height:20px;line-height:20px;"><span>物理类</span></div>
<div class="t num" style="left:806.3px;width:81px;top:972.94px;height:20px;line-height:20px;"><span>56</span></div>
<div class="t num" style="left:887.3px;width:65px;top:972.94px;height:20px;line-height:20px;"><span>16</span></div>
<div class="t num" style="left:952.3px;width:65.1px;top:972.94px;height:20px;line-height:20px;"><span>40</span></div>
<div class="t mj" style="left:351.7px;width:377.3px;top:991.02px;height:20px;line-height:20px;"><span>工程造价</span></div>
<div class="t mj" style="left:726.5px;width:79.8px;top:992.02px;height:20px;line-height:20px;"><span>物理类</span></div>
<div class="t num" style="left:806.3px;width:81px;top:992.02px;height:20px;line-height:20px;"><span>62</span></div>
<div class="t num" style="left:887.3px;width:65px;top:992.02px;height:20px;line-height:20px;"><span>15</span></div>
<div class="t num" style="left:952.3px;width:65.1px;top:992.02px;height:20px;line-height:20px;"><span>47</span></div>
<div class="t mj" style="left:351.7px;width:377.3px;top:1010.1px;height:20px;line-height:20px;"><span>工程造价（注册造价工程师方向）</span></div>
<div class="t mj" style="left:726.5px;width:79.8px;top:1011.1px;height:20px;line-height:20px;"><span>物理类</span></div>
<div class="t num" style="left:806.3px;width:81px;top:1011.1px;height:20px;line-height:20px;"><span>30</span></div>
<div class="t num" style="left:887.3px;width:65px;top:1011.1px;height:20px;line-height:20px;"><span>25</span></div>
<div class="t num" style="left:952.3px;width:65.1px;top:1011.1px;height:20px;line-height:20px;"><span>5</span></div>
<div class="t mj" style="left:351.7px;width:377.3px;top:1029.18px;height:20px;line-height:20px;"><span>土木工程</span></div>
<div class="t mj" style="left:726.5px;width:79.8px;top:1030.18px;height:20px;line-height:20px;"><span>物理类</span></div>
<div class="t num" style="left:806.3px;width:81px;top:1030.18px;height:20px;line-height:20px;"><span>70</span></div>
<div class="t num" style="left:887.3px;width:65px;top:1030.18px;height:20px;line-height:20px;"><span>39</span></div>
<div class="t num" style="left:952.3px;width:65.1px;top:1030.18px;height:20px;line-height:20px;"><span>31</span></div>
<div class="t mj" style="left:351.7px;width:377.3px;top:1048.26px;height:20px;line-height:20px;"><span>土木工程（道路与桥梁工程方向）</span></div>
<div class="t mj" style="left:726.5px;width:79.8px;top:1049.26px;height:20px;line-height:20px;"><span>物理类</span></div>
<div class="t num" style="left:806.3px;width:81px;top:1049.26px;height:20px;line-height:20px;"><span>30</span></div>
<div class="t num" style="left:887.3px;width:65px;top:1049.26px;height:20px;line-height:20px;"><span>10</span></div>
<div class="t num" style="left:952.3px;width:65.1px;top:1049.26px;height:20px;line-height:20px;"><span>20</span></div>
<div class="t mj" style="left:351.7px;width:377.3px;top:1067.34px;height:20px;line-height:20px;"><span>产品设计</span></div>
<div class="t mj" style="left:726.5px;width:79.8px;top:1068.34px;height:20px;line-height:20px;"><span>艺术类</span></div>
<div class="t num" style="left:806.3px;width:81px;top:1068.34px;height:20px;line-height:20px;"><span>31</span></div>
<div class="t num" style="left:887.3px;width:65px;top:1068.34px;height:20px;line-height:20px;"><span>16</span></div>
<div class="t num" style="left:952.3px;width:65.1px;top:1068.34px;height:20px;line-height:20px;"><span>15</span></div>
<div class="t mj" style="left:351.7px;width:377.3px;top:1086.42px;height:20px;line-height:20px;"><span>动画</span></div>
<div class="t mj" style="left:726.5px;width:79.8px;top:1087.42px;height:20px;line-height:20px;"><span>艺术类</span></div>
<div class="t num" style="left:806.3px;width:81px;top:1087.42px;height:20px;line-height:20px;"><span>31</span></div>
<div class="t num" style="left:887.3px;width:65px;top:1087.42px;height:20px;line-height:20px;"><span>16</span></div>
<div class="t num" style="left:952.3px;width:65.1px;top:1087.42px;height:20px;line-height:20px;"><span>15</span></div>
<div class="t mj" style="left:351.7px;width:377.3px;top:1105.5px;height:20px;line-height:20px;"><span>环境设计</span></div>
<div class="t mj" style="left:726.5px;width:79.8px;top:1106.5px;height:20px;line-height:20px;"><span>艺术类</span></div>
<div class="t num" style="left:806.3px;width:81px;top:1106.5px;height:20px;line-height:20px;"><span>58</span></div>
<div class="t num" style="left:887.3px;width:65px;top:1106.5px;height:20px;line-height:20px;"><span>39</span></div>
<div class="t num" style="left:952.3px;width:65.1px;top:1106.5px;height:20px;line-height:20px;"><span>19</span></div>
<div class="t mj" style="left:351.7px;width:377.3px;top:1124.58px;height:20px;line-height:20px;"><span>视觉传达设计</span></div>
<div class="t mj" style="left:726.5px;width:79.8px;top:1125.58px;height:20px;line-height:20px;"><span>艺术类</span></div>
<div class="t num" style="left:806.3px;width:81px;top:1125.58px;height:20px;line-height:20px;"><span>71</span></div>
<div class="t num" style="left:887.3px;width:65px;top:1125.58px;height:20px;line-height:20px;"><span>26</span></div>
<div class="t num" style="left:952.3px;width:65.1px;top:1125.58px;height:20px;line-height:20px;"><span>45</span></div>
<div class="t mj" style="left:351.7px;width:377.3px;top:1143.66px;height:20px;line-height:20px;"><span>数字媒体艺术</span></div>
<div class="t mj" style="left:726.5px;width:79.8px;top:1144.66px;height:20px;line-height:20px;"><span>艺术类</span></div>
<div class="t num" style="left:806.3px;width:81px;top:1144.66px;height:20px;line-height:20px;"><span>72</span></div>
<div class="t num" style="left:887.3px;width:65px;top:1144.66px;height:20px;line-height:20px;"><span>31</span></div>
<div class="t num" style="left:952.3px;width:65.1px;top:1144.66px;height:20px;line-height:20px;"><span>41</span></div>
<div class="t mj" style="left:351.7px;width:377.3px;top:1162.74px;height:20px;line-height:20px;"><span>商务英语</span></div>
<div class="t mj" style="left:726.5px;width:79.8px;top:1163.74px;height:20px;line-height:20px;"><span>历史类</span></div>
<div class="t num" style="left:806.3px;width:81px;top:1163.74px;height:20px;line-height:20px;"><span>33</span></div>
<div class="t num" style="left:887.3px;width:65px;top:1163.74px;height:20px;line-height:20px;"><span>10</span></div>
<div class="t num" style="left:952.3px;width:65.1px;top:1163.74px;height:20px;line-height:20px;"><span>23</span></div>
<div class="t mj" style="left:351.7px;width:377.3px;top:1181.82px;height:20px;line-height:20px;"><span>商务英语</span></div>
<div class="t mj" style="left:726.5px;width:79.8px;top:1182.82px;height:20px;line-height:20px;"><span>物理类</span></div>
<div class="t num" style="left:806.3px;width:81px;top:1182.82px;height:20px;line-height:20px;"><span>27</span></div>
<div class="t num" style="left:887.3px;width:65px;top:1182.82px;height:20px;line-height:20px;"><span>27</span></div>
<div class="t num" style="left:952.3px;width:65.1px;top:1182.82px;height:20px;line-height:20px;"><span>0</span></div>
<div class="t mj" style="left:351.7px;width:377.3px;top:1200.9px;height:20px;line-height:20px;"><span>英语</span></div>
<div class="t mj" style="left:726.5px;width:79.8px;top:1201.9px;height:20px;line-height:20px;"><span>历史类</span></div>
<div class="t num" style="left:806.3px;width:81px;top:1201.9px;height:20px;line-height:20px;"><span>43</span></div>
<div class="t num" style="left:887.3px;width:65px;top:1201.9px;height:20px;line-height:20px;"><span>10</span></div>
<div class="t num" style="left:952.3px;width:65.1px;top:1201.9px;height:20px;line-height:20px;"><span>33</span></div>
<div class="t mj" style="left:351.7px;width:377.3px;top:1219.98px;height:20px;line-height:20px;"><span>英语</span></div>
<div class="t mj" style="left:726.5px;width:79.8px;top:1220.98px;height:20px;line-height:20px;"><span>物理类</span></div>
<div class="t num" style="left:806.3px;width:81px;top:1220.98px;height:20px;line-height:20px;"><span>17</span></div>
<div class="t num" style="left:887.3px;width:65px;top:1220.98px;height:20px;line-height:20px;"><span>17</span></div>
<div class="t num" style="left:952.3px;width:65.1px;top:1220.98px;height:20px;line-height:20px;"><span>0</span></div>
<div class="t mj" style="left:351.7px;width:377.3px;top:1239.06px;height:20px;line-height:20px;"><span>休闲体育</span></div>
<div class="t mj" style="left:726.5px;width:79.8px;top:1240.06px;height:20px;line-height:20px;"><span>体育类</span></div>
<div class="t num" style="left:806.3px;width:81px;top:1240.06px;height:20px;line-height:20px;"><span>30</span></div>
<div class="t num" style="left:887.3px;width:65px;top:1240.06px;height:20px;line-height:20px;"><span>30</span></div>
<div class="t num" style="left:952.3px;width:65.1px;top:1240.06px;height:20px;line-height:20px;"><span>0</span></div>
<div class="t num" style="left:806.3px;width:81px;top:1259.14px;height:20px;line-height:20px;"><span>2371</span></div>
<div class="t num" style="left:887.3px;width:65px;top:1259.14px;height:20px;line-height:20px;"><span>1458</span></div>
<div class="t num" style="left:952.3px;width:65.1px;top:1259.14px;height:20px;line-height:20px;"><span>913</span></div>
<div class="t mj" style="left:351.7px;width:377.3px;top:1277.22px;height:20px;line-height:20px;"><span>电气自动化技术</span></div>
<div class="t mj" style="left:726.5px;width:79.8px;top:1278.22px;height:20px;line-height:20px;"><span>物理类</span></div>
<div class="t num" style="left:806.3px;width:81px;top:1278.22px;height:20px;line-height:20px;"><span>100</span></div>
<div class="t num" style="left:887.3px;width:65px;top:1278.22px;height:20px;line-height:20px;"><span>100</span></div>
<div class="t num" style="left:952.3px;width:65.1px;top:1278.22px;height:20px;line-height:20px;"><span>0</span></div>
<div class="t mj" style="left:351.7px;width:377.3px;top:1296.3px;height:20px;line-height:20px;"><span>计算机应用技术</span></div>
<div class="t mj" style="left:726.5px;width:79.8px;top:1297.3px;height:20px;line-height:20px;"><span>物理类</span></div>
<div class="t num" style="left:806.3px;width:81px;top:1297.3px;height:20px;line-height:20px;"><span>100</span></div>
<div class="t num" style="left:887.3px;width:65px;top:1297.3px;height:20px;line-height:20px;"><span>100</span></div>
<div class="t num" style="left:952.3px;width:65.1px;top:1297.3px;height:20px;line-height:20px;"><span>0</span></div>
<div class="t mj" style="left:351.7px;width:377.3px;top:1315.38px;height:20px;line-height:20px;"><span>现代通信技术</span></div>
<div class="t mj" style="left:726.5px;width:79.8px;top:1316.38px;height:20px;line-height:20px;"><span>物理类</span></div>
<div class="t num" style="left:806.3px;width:81px;top:1316.38px;height:20px;line-height:20px;"><span>100</span></div>
<div class="t num" style="left:887.3px;width:65px;top:1316.38px;height:20px;line-height:20px;"><span>100</span></div>
<div class="t num" style="left:952.3px;width:65.1px;top:1316.38px;height:20px;line-height:20px;"><span>0</span></div>
<div class="t mj" style="left:351.7px;width:377.3px;top:1334.46px;height:20px;line-height:20px;"><span>大数据与会计</span></div>
<div class="t mj" style="left:726.5px;width:79.8px;top:1335.46px;height:20px;line-height:20px;"><span>历史类</span></div>
<div class="t num" style="left:806.3px;width:81px;top:1335.46px;height:20px;line-height:20px;"><span>40</span></div>
<div class="t num" style="left:887.3px;width:65px;top:1335.46px;height:20px;line-height:20px;"><span>40</span></div>
<div class="t num" style="left:952.3px;width:65.1px;top:1335.46px;height:20px;line-height:20px;"><span>0</span></div>
<div class="t mj" style="left:351.7px;width:377.3px;top:1353.54px;height:20px;line-height:20px;"><span>大数据与会计</span></div>
<div class="t mj" style="left:726.5px;width:79.8px;top:1354.54px;height:20px;line-height:20px;"><span>物理类</span></div>
<div class="t num" style="left:806.3px;width:81px;top:1354.54px;height:20px;line-height:20px;"><span>25</span></div>
<div class="t num" style="left:887.3px;width:65px;top:1354.54px;height:20px;line-height:20px;"><span>25</span></div>
<div class="t num" style="left:952.3px;width:65.1px;top:1354.54px;height:20px;line-height:20px;"><span>0</span></div>
<div class="t mj" style="left:351.7px;width:377.3px;top:1372.62px;height:20px;line-height:20px;"><span>市场营销</span></div>
<div class="t mj" style="left:726.5px;width:79.8px;top:1373.62px;height:20px;line-height:20px;"><span>历史类</span></div>
<div class="t num" style="left:806.3px;width:81px;top:1373.62px;height:20px;line-height:20px;"><span>40</span></div>
<div class="t num" style="left:887.3px;width:65px;top:1373.62px;height:20px;line-height:20px;"><span>40</span></div>
<div class="t num" style="left:952.3px;width:65.1px;top:1373.62px;height:20px;line-height:20px;"><span>0</span></div>
<div class="t mj" style="left:351.7px;width:377.3px;top:1391.7px;height:20px;line-height:20px;"><span>市场营销</span></div>
<div class="t mj" style="left:726.5px;width:79.8px;top:1392.7px;height:20px;line-height:20px;"><span>物理类</span></div>
<div class="t num" style="left:806.3px;width:81px;top:1392.7px;height:20px;line-height:20px;"><span>25</span></div>
<div class="t num" style="left:887.3px;width:65px;top:1392.7px;height:20px;line-height:20px;"><span>25</span></div>
<div class="t num" style="left:952.3px;width:65.1px;top:1392.7px;height:20px;line-height:20px;"><span>0</span></div>
<div class="t mj" style="left:351.7px;width:377.3px;top:1410.78px;height:20px;line-height:20px;"><span>建筑工程技术</span></div>
<div class="t mj" style="left:726.5px;width:79.8px;top:1411.78px;height:20px;line-height:20px;"><span>物理类</span></div>
<div class="t num" style="left:806.3px;width:81px;top:1411.78px;height:20px;line-height:20px;"><span>70</span></div>
<div class="t num" style="left:887.3px;width:65px;top:1411.78px;height:20px;line-height:20px;"><span>70</span></div>
<div class="t num" style="left:952.3px;width:65.1px;top:1411.78px;height:20px;line-height:20px;"><span>0</span></div>
<div class="t num" style="left:806.3px;width:81px;top:1430.86px;height:20px;line-height:20px;"><span>500</span></div>
<div class="t num" style="left:887.3px;width:65px;top:1430.86px;height:20px;line-height:20px;"><span>500</span></div>
<div class="t num" style="left:952.3px;width:65.1px;top:1430.86px;height:20px;line-height:20px;"><span>0</span></div>
<div class="b" style="left:1221px;top:156.4px;width:934.25px;height:53.4px;background:#2067ab;"></div>
<div class="b" style="left:1257.15px;top:156.4px;width:1px;height:53.4px;background:#b9d9f5"></div>
<div class="b" style="left:1293.8px;top:156.4px;width:1px;height:53.4px;background:#b9d9f5"></div>
<div class="b" style="left:1330.45px;top:156.4px;width:1px;height:53.4px;background:#b9d9f5"></div>
<div class="b" style="left:1367.1px;top:156.4px;width:1px;height:53.4px;background:#b9d9f5"></div>
<div class="b" style="left:1403.75px;top:156.4px;width:1px;height:53.4px;background:#b9d9f5"></div>
<div class="b" style="left:1440.4px;top:156.4px;width:1px;height:53.4px;background:#b9d9f5"></div>
<div class="b" style="left:1477.05px;top:156.4px;width:1px;height:53.4px;background:#b9d9f5"></div>
<div class="b" style="left:1513.7px;top:156.4px;width:1px;height:53.4px;background:#b9d9f5"></div>
<div class="b" style="left:1550.35px;top:156.4px;width:1px;height:53.4px;background:#b9d9f5"></div>
<div class="b" style="left:1587px;top:156.4px;width:1px;height:53.4px;background:#b9d9f5"></div>
<div class="b" style="left:1623.65px;top:156.4px;width:1px;height:53.4px;background:#b9d9f5"></div>
<div class="b" style="left:1660.3px;top:156.4px;width:1px;height:53.4px;background:#b9d9f5"></div>
<div class="b" style="left:1705.95px;top:156.4px;width:1px;height:53.4px;background:#b9d9f5"></div>
<div class="b" style="left:1751.6px;top:156.4px;width:1px;height:53.4px;background:#b9d9f5"></div>
<div class="b" style="left:1788.25px;top:156.4px;width:1px;height:53.4px;background:#b9d9f5"></div>
<div class="b" style="left:1824.9px;top:156.4px;width:1px;height:53.4px;background:#b9d9f5"></div>
<div class="b" style="left:1861.55px;top:156.4px;width:1px;height:53.4px;background:#b9d9f5"></div>
<div class="b" style="left:1898.2px;top:156.4px;width:1px;height:53.4px;background:#b9d9f5"></div>
<div class="b" style="left:1934.85px;top:156.4px;width:1px;height:53.4px;background:#b9d9f5"></div>
<div class="b" style="left:1971.5px;top:156.4px;width:1px;height:53.4px;background:#b9d9f5"></div>
<div class="b" style="left:2008.15px;top:156.4px;width:1px;height:53.4px;background:#b9d9f5"></div>
<div class="b" style="left:2044.8px;top:156.4px;width:1px;height:53.4px;background:#b9d9f5"></div>
<div class="b" style="left:2081.45px;top:156.4px;width:1px;height:53.4px;background:#b9d9f5"></div>
<div class="b" style="left:2118.1px;top:156.4px;width:1px;height:53.4px;background:#b9d9f5"></div>
<div class="t ph" style="left:1219.5px;width:36.65px;top:168.3px;height:33px;line-height:33px;line-height:16.5px"><span>天<br>津</span></div>
<div class="t ph" style="left:1256.15px;width:36.65px;top:168.3px;height:33px;line-height:33px;line-height:16.5px"><span>浙<br>江</span></div>
<div class="t ph" style="left:1292.8px;width:36.65px;top:168.3px;height:33px;line-height:33px;line-height:16.5px"><span>山<br>东</span></div>
<div class="t ph" style="left:1329.45px;width:36.65px;top:168.3px;height:33px;line-height:33px;line-height:16.5px"><span>海<br>南</span></div>
<div class="t ph" style="left:1366.1px;width:36.65px;top:168.3px;height:33px;line-height:33px;line-height:16.5px"><span>河<br>北</span></div>
<div class="t ph" style="left:1402.75px;width:36.65px;top:168.3px;height:33px;line-height:33px;line-height:16.5px"><span>辽<br>宁</span></div>
<div class="t ph" style="left:1439.4px;width:36.65px;top:168.3px;height:33px;line-height:33px;line-height:16.5px"><span>江<br>苏</span></div>
<div class="t ph" style="left:1476.05px;width:36.65px;top:168.3px;height:33px;line-height:33px;line-height:16.5px"><span>福<br>建</span></div>
<div class="t ph" style="left:1512.7px;width:36.65px;top:168.3px;height:33px;line-height:33px;line-height:16.5px"><span>湖<br>南</span></div>
<div class="t ph" style="left:1549.35px;width:36.65px;top:168.3px;height:33px;line-height:33px;line-height:16.5px"><span>广<br>东</span></div>
<div class="t ph" style="left:1586px;width:36.65px;top:168.3px;height:33px;line-height:33px;line-height:16.5px"><span>重<br>庆</span></div>
<div class="t ph" style="left:1622.65px;width:36.65px;top:168.3px;height:33px;line-height:33px;line-height:16.5px"><span>山<br>西</span></div>
<div class="t ph" style="left:1659.8px;width:45.65px;top:157.1px;height:52px;line-height:52px;line-height:17.2px;font-size:13px"><span>内<br>蒙<br>古</span></div>
<div class="t ph" style="left:1705.45px;width:45.65px;top:157.1px;height:52px;line-height:52px;line-height:17.2px;font-size:13px"><span>黑<br>龙<br>江</span></div>
<div class="t ph" style="left:1750.6px;width:36.65px;top:168.3px;height:33px;line-height:33px;line-height:16.5px"><span>安<br>徽</span></div>
<div class="t ph" style="left:1787.25px;width:36.65px;top:168.3px;height:33px;line-height:33px;line-height:16.5px"><span>江<br>西</span></div>
<div class="t ph" style="left:1823.9px;width:36.65px;top:168.3px;height:33px;line-height:33px;line-height:16.5px"><span>河<br>南</span></div>
<div class="t ph" style="left:1860.55px;width:36.65px;top:168.3px;height:33px;line-height:33px;line-height:16.5px"><span>广<br>西</span></div>
<div class="t ph" style="left:1897.2px;width:36.65px;top:168.3px;height:33px;line-height:33px;line-height:16.5px"><span>四<br>川</span></div>
<div class="t ph" style="left:1933.85px;width:36.65px;top:168.3px;height:33px;line-height:33px;line-height:16.5px"><span>贵<br>州</span></div>
<div class="t ph" style="left:1970.5px;width:36.65px;top:168.3px;height:33px;line-height:33px;line-height:16.5px"><span>云<br>南</span></div>
<div class="t ph" style="left:2007.15px;width:36.65px;top:168.3px;height:33px;line-height:33px;line-height:16.5px"><span>陕<br>西</span></div>
<div class="t ph" style="left:2043.8px;width:36.65px;top:168.3px;height:33px;line-height:33px;line-height:16.5px"><span>甘<br>肃</span></div>
<div class="t ph" style="left:2080.45px;width:36.65px;top:168.3px;height:33px;line-height:33px;line-height:16.5px"><span>宁<br>夏</span></div>
<div class="t ph" style="left:2117.1px;width:36.65px;top:168.3px;height:33px;line-height:33px;line-height:16.5px"><span>新<br>疆</span></div>
<div class="b" style="left:1221px;top:209.8px;width:934.25px;height:19.06px;background:#e3e9f5;"></div>
<div class="b" style="left:1221px;top:247.92px;width:934.25px;height:19.06px;background:#e3e9f5;"></div>
<div class="b" style="left:1221px;top:286.03px;width:934.25px;height:19.06px;background:#e3e9f5;"></div>
<div class="b" style="left:1221px;top:324.15px;width:934.25px;height:19.06px;background:#e3e9f5;"></div>
<div class="b" style="left:1221px;top:362.27px;width:934.25px;height:19.06px;background:#e3e9f5;"></div>
<div class="b" style="left:1221px;top:400.39px;width:934.25px;height:19.06px;background:#e3e9f5;"></div>
<div class="b" style="left:1221px;top:438.5px;width:934.25px;height:19.06px;background:#e3e9f5;"></div>
<div class="b" style="left:1221px;top:476.62px;width:934.25px;height:19.06px;background:#e3e9f5;"></div>
<div class="b" style="left:1221px;top:514.74px;width:934.25px;height:19.06px;background:#e3e9f5;"></div>
<div class="b" style="left:1221px;top:552.85px;width:934.25px;height:19.06px;background:#e3e9f5;"></div>
<div class="b" style="left:1221px;top:590.97px;width:934.25px;height:19.06px;background:#e3e9f5;"></div>
<div class="b" style="left:1221px;top:629.09px;width:934.25px;height:19.06px;background:#e3e9f5;"></div>
<div class="b" style="left:1221px;top:667.2px;width:934.25px;height:19.06px;background:#e3e9f5;"></div>
<div class="b" style="left:1221px;top:705.32px;width:934.25px;height:19.06px;background:#e3e9f5;"></div>
<div class="b" style="left:1221px;top:743.44px;width:934.25px;height:19.06px;background:#e3e9f5;"></div>
<div class="b" style="left:1221px;top:781.56px;width:934.25px;height:19.06px;background:#e3e9f5;"></div>
<div class="b" style="left:1221px;top:819.67px;width:934.25px;height:19.06px;background:#e3e9f5;"></div>
<div class="b" style="left:1221px;top:857.79px;width:934.25px;height:19.06px;background:#e3e9f5;"></div>
<div class="b" style="left:1221px;top:895.91px;width:934.25px;height:19.06px;background:#e3e9f5;"></div>
<div class="b" style="left:1221px;top:934.02px;width:934.25px;height:19.06px;background:#e3e9f5;"></div>
<div class="b" style="left:1221px;top:972.14px;width:934.25px;height:19.06px;background:#e3e9f5;"></div>
<div class="b" style="left:1221px;top:1006.8px;width:934.25px;height:19.19px;background:#e3e9f5;"></div>
<div class="b" style="left:1221px;top:1045.18px;width:934.25px;height:19.19px;background:#e3e9f5;"></div>
<div class="b" style="left:1221px;top:1083.57px;width:934.25px;height:19.19px;background:#e3e9f5;"></div>
<div class="b" style="left:1221px;top:1121.95px;width:934.25px;height:19.19px;background:#e3e9f5;"></div>
<div class="b" style="left:1221px;top:1160.34px;width:934.25px;height:19.19px;background:#e3e9f5;"></div>
<div class="b" style="left:1221px;top:1198.72px;width:934.25px;height:19.19px;background:#e3e9f5;"></div>
<div class="b" style="left:1221px;top:1237.1px;width:934.25px;height:19.19px;background:#e3e9f5;"></div>
<div class="b" style="left:1221px;top:1275.49px;width:934.25px;height:19.19px;background:#e3e9f5;"></div>
<div class="b" style="left:1221px;top:1313.87px;width:934.25px;height:19.19px;background:#e3e9f5;"></div>
<div class="b" style="left:1221px;top:1352.26px;width:934.25px;height:19.19px;background:#e3e9f5;"></div>
<div class="b" style="left:1221px;top:1390.64px;width:934.25px;height:19.19px;background:#e3e9f5;"></div>
<div class="b" style="left:1221px;top:1429.02px;width:934.25px;height:19.19px;background:#e3e9f5;"></div>
<div class="b" style="left:1221px;top:1467.41px;width:934.25px;height:19.19px;background:#e3e9f5;"></div>
<div class="b" style="left:1221px;top:228.36px;width:934.25px;height:1px;background:#6479a8"></div>
<div class="b" style="left:1221px;top:247.42px;width:934.25px;height:1px;background:#6479a8"></div>
<div class="b" style="left:1221px;top:266.48px;width:934.25px;height:1px;background:#6479a8"></div>
<div class="b" style="left:1221px;top:285.53px;width:934.25px;height:1px;background:#6479a8"></div>
<div class="b" style="left:1221px;top:304.59px;width:934.25px;height:1px;background:#6479a8"></div>
<div class="b" style="left:1221px;top:323.65px;width:934.25px;height:1px;background:#6479a8"></div>
<div class="b" style="left:1221px;top:342.71px;width:934.25px;height:1px;background:#6479a8"></div>
<div class="b" style="left:1221px;top:361.77px;width:934.25px;height:1px;background:#6479a8"></div>
<div class="b" style="left:1221px;top:380.83px;width:934.25px;height:1px;background:#6479a8"></div>
<div class="b" style="left:1221px;top:399.89px;width:934.25px;height:1px;background:#6479a8"></div>
<div class="b" style="left:1221px;top:418.94px;width:934.25px;height:1px;background:#6479a8"></div>
<div class="b" style="left:1221px;top:438px;width:934.25px;height:1px;background:#6479a8"></div>
<div class="b" style="left:1221px;top:457.06px;width:934.25px;height:1px;background:#6479a8"></div>
<div class="b" style="left:1221px;top:476.12px;width:934.25px;height:1px;background:#6479a8"></div>
<div class="b" style="left:1221px;top:495.18px;width:934.25px;height:1px;background:#6479a8"></div>
<div class="b" style="left:1221px;top:514.24px;width:934.25px;height:1px;background:#6479a8"></div>
<div class="b" style="left:1221px;top:533.3px;width:934.25px;height:1px;background:#6479a8"></div>
<div class="b" style="left:1221px;top:552.35px;width:934.25px;height:1px;background:#6479a8"></div>
<div class="b" style="left:1221px;top:571.41px;width:934.25px;height:1px;background:#6479a8"></div>
<div class="b" style="left:1221px;top:590.47px;width:934.25px;height:1px;background:#6479a8"></div>
<div class="b" style="left:1221px;top:609.53px;width:934.25px;height:1px;background:#6479a8"></div>
<div class="b" style="left:1221px;top:628.59px;width:934.25px;height:1px;background:#6479a8"></div>
<div class="b" style="left:1221px;top:647.65px;width:934.25px;height:1px;background:#6479a8"></div>
<div class="b" style="left:1221px;top:666.7px;width:934.25px;height:1px;background:#6479a8"></div>
<div class="b" style="left:1221px;top:685.76px;width:934.25px;height:1px;background:#6479a8"></div>
<div class="b" style="left:1221px;top:704.82px;width:934.25px;height:1px;background:#6479a8"></div>
<div class="b" style="left:1221px;top:723.88px;width:934.25px;height:1px;background:#6479a8"></div>
<div class="b" style="left:1221px;top:742.94px;width:934.25px;height:1px;background:#6479a8"></div>
<div class="b" style="left:1221px;top:762px;width:934.25px;height:1px;background:#6479a8"></div>
<div class="b" style="left:1221px;top:781.06px;width:934.25px;height:1px;background:#6479a8"></div>
<div class="b" style="left:1221px;top:800.11px;width:934.25px;height:1px;background:#6479a8"></div>
<div class="b" style="left:1221px;top:819.17px;width:934.25px;height:1px;background:#6479a8"></div>
<div class="b" style="left:1221px;top:838.23px;width:934.25px;height:1px;background:#6479a8"></div>
<div class="b" style="left:1221px;top:857.29px;width:934.25px;height:1px;background:#6479a8"></div>
<div class="b" style="left:1221px;top:876.35px;width:934.25px;height:1px;background:#6479a8"></div>
<div class="b" style="left:1221px;top:895.41px;width:934.25px;height:1px;background:#6479a8"></div>
<div class="b" style="left:1221px;top:914.47px;width:934.25px;height:1px;background:#6479a8"></div>
<div class="b" style="left:1221px;top:933.52px;width:934.25px;height:1px;background:#6479a8"></div>
<div class="b" style="left:1221px;top:952.58px;width:934.25px;height:1px;background:#6479a8"></div>
<div class="b" style="left:1221px;top:971.64px;width:934.25px;height:1px;background:#6479a8"></div>
<div class="b" style="left:1221px;top:990.7px;width:934.25px;height:1px;background:#6479a8"></div>
<div class="b" style="left:1221px;top:1006.3px;width:934.25px;height:1px;background:#6479a8"></div>
<div class="b" style="left:1221px;top:1025.49px;width:934.25px;height:1px;background:#6479a8"></div>
<div class="b" style="left:1221px;top:1044.68px;width:934.25px;height:1px;background:#6479a8"></div>
<div class="b" style="left:1221px;top:1063.88px;width:934.25px;height:1px;background:#6479a8"></div>
<div class="b" style="left:1221px;top:1083.07px;width:934.25px;height:1px;background:#6479a8"></div>
<div class="b" style="left:1221px;top:1102.26px;width:934.25px;height:1px;background:#6479a8"></div>
<div class="b" style="left:1221px;top:1121.45px;width:934.25px;height:1px;background:#6479a8"></div>
<div class="b" style="left:1221px;top:1140.64px;width:934.25px;height:1px;background:#6479a8"></div>
<div class="b" style="left:1221px;top:1159.84px;width:934.25px;height:1px;background:#6479a8"></div>
<div class="b" style="left:1221px;top:1179.03px;width:934.25px;height:1px;background:#6479a8"></div>
<div class="b" style="left:1221px;top:1198.22px;width:934.25px;height:1px;background:#6479a8"></div>
<div class="b" style="left:1221px;top:1217.41px;width:934.25px;height:1px;background:#6479a8"></div>
<div class="b" style="left:1221px;top:1236.6px;width:934.25px;height:1px;background:#6479a8"></div>
<div class="b" style="left:1221px;top:1255.8px;width:934.25px;height:1px;background:#6479a8"></div>
<div class="b" style="left:1221px;top:1274.99px;width:934.25px;height:1px;background:#6479a8"></div>
<div class="b" style="left:1221px;top:1294.18px;width:934.25px;height:1px;background:#6479a8"></div>
<div class="b" style="left:1221px;top:1313.37px;width:934.25px;height:1px;background:#6479a8"></div>
<div class="b" style="left:1221px;top:1332.56px;width:934.25px;height:1px;background:#6479a8"></div>
<div class="b" style="left:1221px;top:1351.76px;width:934.25px;height:1px;background:#6479a8"></div>
<div class="b" style="left:1221px;top:1370.95px;width:934.25px;height:1px;background:#6479a8"></div>
<div class="b" style="left:1221px;top:1390.14px;width:934.25px;height:1px;background:#6479a8"></div>
<div class="b" style="left:1221px;top:1409.33px;width:934.25px;height:1px;background:#6479a8"></div>
<div class="b" style="left:1221px;top:1428.52px;width:934.25px;height:1px;background:#6479a8"></div>
<div class="b" style="left:1221px;top:1447.72px;width:934.25px;height:1px;background:#6479a8"></div>
<div class="b" style="left:1221px;top:1466.91px;width:934.25px;height:1px;background:#6479a8"></div>
<div class="b" style="left:1221px;top:1486.1px;width:934.25px;height:1px;background:#6479a8"></div>
<div class="b" style="left:1221.1px;top:209.8px;width:1px;height:1276.8px;background:#4b5b8e"></div>
<div class="b" style="left:1257.75px;top:209.8px;width:1px;height:1276.8px;background:#4b5b8e"></div>
<div class="b" style="left:1294.4px;top:209.8px;width:1px;height:1276.8px;background:#4b5b8e"></div>
<div class="b" style="left:1331.05px;top:209.8px;width:1px;height:1276.8px;background:#4b5b8e"></div>
<div class="b" style="left:1367.7px;top:209.8px;width:1px;height:1276.8px;background:#4b5b8e"></div>
<div class="b" style="left:1404.35px;top:209.8px;width:1px;height:1276.8px;background:#4b5b8e"></div>
<div class="b" style="left:1441px;top:209.8px;width:1px;height:1276.8px;background:#4b5b8e"></div>
<div class="b" style="left:1477.65px;top:209.8px;width:1px;height:1276.8px;background:#4b5b8e"></div>
<div class="b" style="left:1514.3px;top:209.8px;width:1px;height:1276.8px;background:#4b5b8e"></div>
<div class="b" style="left:1550.95px;top:209.8px;width:1px;height:1276.8px;background:#4b5b8e"></div>
<div class="b" style="left:1587.6px;top:209.8px;width:1px;height:1276.8px;background:#4b5b8e"></div>
<div class="b" style="left:1624.25px;top:209.8px;width:1px;height:1276.8px;background:#4b5b8e"></div>
<div class="b" style="left:1660.9px;top:209.8px;width:1px;height:1276.8px;background:#4b5b8e"></div>
<div class="b" style="left:1706.55px;top:209.8px;width:1px;height:1276.8px;background:#4b5b8e"></div>
<div class="b" style="left:1752.2px;top:209.8px;width:1px;height:1276.8px;background:#4b5b8e"></div>
<div class="b" style="left:1788.85px;top:209.8px;width:1px;height:1276.8px;background:#4b5b8e"></div>
<div class="b" style="left:1825.5px;top:209.8px;width:1px;height:1276.8px;background:#4b5b8e"></div>
<div class="b" style="left:1862.15px;top:209.8px;width:1px;height:1276.8px;background:#4b5b8e"></div>
<div class="b" style="left:1898.8px;top:209.8px;width:1px;height:1276.8px;background:#4b5b8e"></div>
<div class="b" style="left:1935.45px;top:209.8px;width:1px;height:1276.8px;background:#4b5b8e"></div>
<div class="b" style="left:1972.1px;top:209.8px;width:1px;height:1276.8px;background:#4b5b8e"></div>
<div class="b" style="left:2008.75px;top:209.8px;width:1px;height:1276.8px;background:#4b5b8e"></div>
<div class="b" style="left:2045.4px;top:209.8px;width:1px;height:1276.8px;background:#4b5b8e"></div>
<div class="b" style="left:2082.05px;top:209.8px;width:1px;height:1276.8px;background:#4b5b8e"></div>
<div class="b" style="left:2118.7px;top:209.8px;width:1px;height:1276.8px;background:#4b5b8e"></div>
<div class="b" style="left:2155.35px;top:209.8px;width:1px;height:1276.8px;background:#4b5b8e"></div>
<div class="t rn" style="left:1440.9px;width:36.65px;top:209.33px;height:20px;line-height:20px;"><span>2</span></div>
<div class="t rn" style="left:1624.15px;width:36.65px;top:209.33px;height:20px;line-height:20px;"><span>2</span></div>
<div class="t rn" style="left:1862.05px;width:36.65px;top:209.33px;height:20px;line-height:20px;"><span>4</span></div>
<div class="t rn" style="left:1935.35px;width:36.65px;top:209.33px;height:20px;line-height:20px;"><span>3</span></div>
<div class="t rn" style="left:1972px;width:36.65px;top:209.33px;height:20px;line-height:20px;"><span>3</span></div>
<div class="t rn" style="left:1257.65px;width:36.65px;top:228.39px;height:20px;line-height:20px;"><span>2</span></div>
<div class="t rn" style="left:1294.3px;width:36.65px;top:228.39px;height:20px;line-height:20px;"><span>4</span></div>
<div class="t rn" style="left:1477.55px;width:36.65px;top:228.39px;height:20px;line-height:20px;"><span>2</span></div>
<div class="t rn" style="left:1788.75px;width:36.65px;top:228.39px;height:20px;line-height:20px;"><span>2</span></div>
<div class="t rn" style="left:1825.4px;width:36.65px;top:228.39px;height:20px;line-height:20px;"><span>3</span></div>
<div class="t rn" style="left:1935.35px;width:36.65px;top:228.39px;height:20px;line-height:20px;"><span>3</span></div>
<div class="t rn" style="left:1972px;width:36.65px;top:228.39px;height:20px;line-height:20px;"><span>3</span></div>
<div class="t rn" style="left:2045.3px;width:36.65px;top:228.39px;height:20px;line-height:20px;"><span>4</span></div>
<div class="t rn" style="left:2118.6px;width:36.65px;top:228.39px;height:20px;line-height:20px;"><span>2</span></div>
<div class="t rn" style="left:1221px;width:36.65px;top:247.45px;height:20px;line-height:20px;"><span>3</span></div>
<div class="t rn" style="left:1404.25px;width:36.65px;top:247.45px;height:20px;line-height:20px;"><span>2</span></div>
<div class="t rn" style="left:1440.9px;width:36.65px;top:247.45px;height:20px;line-height:20px;"><span>2</span></div>
<div class="t rn" style="left:1624.15px;width:36.65px;top:247.45px;height:20px;line-height:20px;"><span>2</span></div>
<div class="t rn" style="left:1706.45px;width:45.65px;top:247.45px;height:20px;line-height:20px;"><span>3</span></div>
<div class="t rn" style="left:1825.4px;width:36.65px;top:247.45px;height:20px;line-height:20px;"><span>2</span></div>
<div class="t rn" style="left:1862.05px;width:36.65px;top:247.45px;height:20px;line-height:20px;"><span>4</span></div>
<div class="t rn" style="left:1935.35px;width:36.65px;top:247.45px;height:20px;line-height:20px;"><span>3</span></div>
<div class="t rn" style="left:2008.65px;width:36.65px;top:247.45px;height:20px;line-height:20px;"><span>2</span></div>
<div class="t rn" style="left:1440.9px;width:36.65px;top:266.5px;height:20px;line-height:20px;"><span>2</span></div>
<div class="t rn" style="left:1514.2px;width:36.65px;top:266.5px;height:20px;line-height:20px;"><span>2</span></div>
<div class="t rn" style="left:1587.5px;width:36.65px;top:266.5px;height:20px;line-height:20px;"><span>3</span></div>
<div class="t rn" style="left:1624.15px;width:36.65px;top:266.5px;height:20px;line-height:20px;"><span>2</span></div>
<div class="t rn" style="left:1706.45px;width:45.65px;top:266.5px;height:20px;line-height:20px;"><span>2</span></div>
<div class="t rn" style="left:1825.4px;width:36.65px;top:266.5px;height:20px;line-height:20px;"><span>2</span></div>
<div class="t rn" style="left:1862.05px;width:36.65px;top:266.5px;height:20px;line-height:20px;"><span>4</span></div>
<div class="t rn" style="left:1898.7px;width:36.65px;top:266.5px;height:20px;line-height:20px;"><span>2</span></div>
<div class="t rn" style="left:2008.65px;width:36.65px;top:266.5px;height:20px;line-height:20px;"><span>2</span></div>
<div class="t rn" style="left:2118.6px;width:36.65px;top:266.5px;height:20px;line-height:20px;"><span>2</span></div>
<div class="t rn" style="left:1367.6px;width:36.65px;top:285.56px;height:20px;line-height:20px;"><span>2</span></div>
<div class="t rn" style="left:1788.75px;width:36.65px;top:285.56px;height:20px;line-height:20px;"><span>2</span></div>
<div class="t rn" style="left:1898.7px;width:36.65px;top:285.56px;height:20px;line-height:20px;"><span>2</span></div>
<div class="t rn" style="left:1257.65px;width:36.65px;top:304.62px;height:20px;line-height:20px;"><span>2</span></div>
<div class="t rn" style="left:1788.75px;width:36.65px;top:304.62px;height:20px;line-height:20px;"><span>2</span></div>
<div class="t rn" style="left:2008.65px;width:36.65px;top:304.62px;height:20px;line-height:20px;"><span>2</span></div>
<div class="t rn" style="left:1660.8px;width:45.65px;top:323.68px;height:20px;line-height:20px;"><span>2</span></div>
<div class="t rn" style="left:1825.4px;width:36.65px;top:323.68px;height:20px;line-height:20px;"><span>2</span></div>
<div class="t rn" style="left:1862.05px;width:36.65px;top:323.68px;height:20px;line-height:20px;"><span>2</span></div>
<div class="t rn" style="left:1972px;width:36.65px;top:323.68px;height:20px;line-height:20px;"><span>2</span></div>
<div class="t rn" style="left:1257.65px;width:36.65px;top:342.74px;height:20px;line-height:20px;"><span>2</span></div>
<div class="t rn" style="left:1404.25px;width:36.65px;top:342.74px;height:20px;line-height:20px;"><span>2</span></div>
<div class="t rn" style="left:1550.85px;width:36.65px;top:342.74px;height:20px;line-height:20px;"><span>3</span></div>
<div class="t rn" style="left:1825.4px;width:36.65px;top:342.74px;height:20px;line-height:20px;"><span>2</span></div>
<div class="t rn" style="left:1862.05px;width:36.65px;top:342.74px;height:20px;line-height:20px;"><span>4</span></div>
<div class="t rn" style="left:1898.7px;width:36.65px;top:342.74px;height:20px;line-height:20px;"><span>2</span></div>
<div class="t rn" style="left:1935.35px;width:36.65px;top:342.74px;height:20px;line-height:20px;"><span>3</span></div>
<div class="t rn" style="left:1972px;width:36.65px;top:342.74px;height:20px;line-height:20px;"><span>2</span></div>
<div class="t rn" style="left:2045.3px;width:36.65px;top:342.74px;height:20px;line-height:20px;"><span>3</span></div>
<div class="t rn" style="left:2081.95px;width:36.65px;top:342.74px;height:20px;line-height:20px;"><span>4</span></div>
<div class="t rn" style="left:1257.65px;width:36.65px;top:361.8px;height:20px;line-height:20px;"><span>2</span></div>
<div class="t rn" style="left:1825.4px;width:36.65px;top:361.8px;height:20px;line-height:20px;"><span>2</span></div>
<div class="t rn" style="left:1862.05px;width:36.65px;top:361.8px;height:20px;line-height:20px;"><span>2</span></div>
<div class="t rn" style="left:1587.5px;width:36.65px;top:399.91px;height:20px;line-height:20px;"><span>2</span></div>
<div class="t rn" style="left:1624.15px;width:36.65px;top:399.91px;height:20px;line-height:20px;"><span>3</span></div>
<div class="t rn" style="left:1752.1px;width:36.65px;top:399.91px;height:20px;line-height:20px;"><span>4</span></div>
<div class="t rn" style="left:1788.75px;width:36.65px;top:399.91px;height:20px;line-height:20px;"><span>2</span></div>
<div class="t rn" style="left:1825.4px;width:36.65px;top:399.91px;height:20px;line-height:20px;"><span>3</span></div>
<div class="t rn" style="left:1862.05px;width:36.65px;top:399.91px;height:20px;line-height:20px;"><span>2</span></div>
<div class="t rn" style="left:1898.7px;width:36.65px;top:399.91px;height:20px;line-height:20px;"><span>2</span></div>
<div class="t rn" style="left:1935.35px;width:36.65px;top:399.91px;height:20px;line-height:20px;"><span>3</span></div>
<div class="t rn" style="left:1257.65px;width:36.65px;top:438.03px;height:20px;line-height:20px;"><span>4</span></div>
<div class="t rn" style="left:1587.5px;width:36.65px;top:438.03px;height:20px;line-height:20px;"><span>2</span></div>
<div class="t rn" style="left:1825.4px;width:36.65px;top:438.03px;height:20px;line-height:20px;"><span>2</span></div>
<div class="t rn" style="left:1898.7px;width:36.65px;top:438.03px;height:20px;line-height:20px;"><span>2</span></div>
<div class="t rn" style="left:1935.35px;width:36.65px;top:438.03px;height:20px;line-height:20px;"><span>3</span></div>
<div class="t rn" style="left:1972px;width:36.65px;top:438.03px;height:20px;line-height:20px;"><span>2</span></div>
<div class="t rn" style="left:1294.3px;width:36.65px;top:457.09px;height:20px;line-height:20px;"><span>8</span></div>
<div class="t rn" style="left:1440.9px;width:36.65px;top:457.09px;height:20px;line-height:20px;"><span>2</span></div>
<div class="t rn" style="left:1477.55px;width:36.65px;top:457.09px;height:20px;line-height:20px;"><span>4</span></div>
<div class="t rn" style="left:1624.15px;width:36.65px;top:457.09px;height:20px;line-height:20px;"><span>2</span></div>
<div class="t rn" style="left:1788.75px;width:36.65px;top:457.09px;height:20px;line-height:20px;"><span>2</span></div>
<div class="t rn" style="left:1825.4px;width:36.65px;top:457.09px;height:20px;line-height:20px;"><span>2</span></div>
<div class="t rn" style="left:1898.7px;width:36.65px;top:457.09px;height:20px;line-height:20px;"><span>2</span></div>
<div class="t rn" style="left:1972px;width:36.65px;top:457.09px;height:20px;line-height:20px;"><span>2</span></div>
<div class="t rn" style="left:1257.65px;width:36.65px;top:476.15px;height:20px;line-height:20px;"><span>2</span></div>
<div class="t rn" style="left:1294.3px;width:36.65px;top:476.15px;height:20px;line-height:20px;"><span>7</span></div>
<div class="t rn" style="left:1477.55px;width:36.65px;top:476.15px;height:20px;line-height:20px;"><span>2</span></div>
<div class="t rn" style="left:1825.4px;width:36.65px;top:476.15px;height:20px;line-height:20px;"><span>2</span></div>
<div class="t rn" style="left:1898.7px;width:36.65px;top:476.15px;height:20px;line-height:20px;"><span>2</span></div>
<div class="t rn" style="left:1972px;width:36.65px;top:476.15px;height:20px;line-height:20px;"><span>2</span></div>
<div class="t rn" style="left:1330.95px;width:36.65px;top:495.21px;height:20px;line-height:20px;"><span>5</span></div>
<div class="t rn" style="left:1660.8px;width:45.65px;top:495.21px;height:20px;line-height:20px;"><span>2</span></div>
<div class="t rn" style="left:1825.4px;width:36.65px;top:495.21px;height:20px;line-height:20px;"><span>3</span></div>
<div class="t rn" style="left:1862.05px;width:36.65px;top:495.21px;height:20px;line-height:20px;"><span>3</span></div>
<div class="t rn" style="left:1972px;width:36.65px;top:495.21px;height:20px;line-height:20px;"><span>2</span></div>
<div class="t rn" style="left:1367.6px;width:36.65px;top:533.32px;height:20px;line-height:20px;"><span>3</span></div>
<div class="t rn" style="left:1825.4px;width:36.65px;top:533.32px;height:20px;line-height:20px;"><span>2</span></div>
<div class="t rn" style="left:1862.05px;width:36.65px;top:533.32px;height:20px;line-height:20px;"><span>3</span></div>
<div class="t rn" style="left:1935.35px;width:36.65px;top:533.32px;height:20px;line-height:20px;"><span>3</span></div>
<div class="t rn" style="left:2118.6px;width:36.65px;top:533.32px;height:20px;line-height:20px;"><span>2</span></div>
<div class="t rn" style="left:1257.65px;width:36.65px;top:552.38px;height:20px;line-height:20px;"><span>2</span></div>
<div class="t rn" style="left:1330.95px;width:36.65px;top:552.38px;height:20px;line-height:20px;"><span>2</span></div>
<div class="t rn" style="left:1440.9px;width:36.65px;top:552.38px;height:20px;line-height:20px;"><span>2</span></div>
<div class="t rn" style="left:1660.8px;width:45.65px;top:552.38px;height:20px;line-height:20px;"><span>2</span></div>
<div class="t rn" style="left:1788.75px;width:36.65px;top:552.38px;height:20px;line-height:20px;"><span>2</span></div>
<div class="t rn" style="left:1825.4px;width:36.65px;top:552.38px;height:20px;line-height:20px;"><span>2</span></div>
<div class="t rn" style="left:1862.05px;width:36.65px;top:552.38px;height:20px;line-height:20px;"><span>3</span></div>
<div class="t rn" style="left:2118.6px;width:36.65px;top:552.38px;height:20px;line-height:20px;"><span>2</span></div>
<div class="t rn" style="left:1257.65px;width:36.65px;top:571.44px;height:20px;line-height:20px;"><span>2</span></div>
<div class="t rn" style="left:1440.9px;width:36.65px;top:571.44px;height:20px;line-height:20px;"><span>2</span></div>
<div class="t rn" style="left:1825.4px;width:36.65px;top:571.44px;height:20px;line-height:20px;"><span>5</span></div>
<div class="t rn" style="left:1862.05px;width:36.65px;top:571.44px;height:20px;line-height:20px;"><span>5</span></div>
<div class="t rn" style="left:1898.7px;width:36.65px;top:571.44px;height:20px;line-height:20px;"><span>3</span></div>
<div class="t rn" style="left:1440.9px;width:36.65px;top:590.5px;height:20px;line-height:20px;"><span>2</span></div>
<div class="t rn" style="left:1477.55px;width:36.65px;top:590.5px;height:20px;line-height:20px;"><span>2</span></div>
<div class="t rn" style="left:1752.1px;width:36.65px;top:590.5px;height:20px;line-height:20px;"><span>2</span></div>
<div class="t rn" style="left:1788.75px;width:36.65px;top:590.5px;height:20px;line-height:20px;"><span>2</span></div>
<div class="t rn" style="left:1825.4px;width:36.65px;top:590.5px;height:20px;line-height:20px;"><span>2</span></div>
<div class="t rn" style="left:1862.05px;width:36.65px;top:590.5px;height:20px;line-height:20px;"><span>3</span></div>
<div class="t rn" style="left:1935.35px;width:36.65px;top:590.5px;height:20px;line-height:20px;"><span>2</span></div>
<div class="t rn" style="left:2118.6px;width:36.65px;top:590.5px;height:20px;line-height:20px;"><span>2</span></div>
<div class="t rn" style="left:1660.8px;width:45.65px;top:609.56px;height:20px;line-height:20px;"><span>2</span></div>
<div class="t rn" style="left:1752.1px;width:36.65px;top:609.56px;height:20px;line-height:20px;"><span>2</span></div>
<div class="t rn" style="left:1788.75px;width:36.65px;top:609.56px;height:20px;line-height:20px;"><span>2</span></div>
<div class="t rn" style="left:1825.4px;width:36.65px;top:609.56px;height:20px;line-height:20px;"><span>3</span></div>
<div class="t rn" style="left:1862.05px;width:36.65px;top:609.56px;height:20px;line-height:20px;"><span>3</span></div>
<div class="t rn" style="left:1935.35px;width:36.65px;top:609.56px;height:20px;line-height:20px;"><span>3</span></div>
<div class="t rn" style="left:2118.6px;width:36.65px;top:609.56px;height:20px;line-height:20px;"><span>2</span></div>
<div class="t rn" style="left:1862.05px;width:36.65px;top:628.62px;height:20px;line-height:20px;"><span>3</span></div>
<div class="t rn" style="left:1935.35px;width:36.65px;top:628.62px;height:20px;line-height:20px;"><span>3</span></div>
<div class="t rn" style="left:2081.95px;width:36.65px;top:628.62px;height:20px;line-height:20px;"><span>5</span></div>
<div class="t rn" style="left:1825.4px;width:36.65px;top:647.68px;height:20px;line-height:20px;"><span>4</span></div>
<div class="t rn" style="left:1898.7px;width:36.65px;top:647.68px;height:20px;line-height:20px;"><span>4</span></div>
<div class="t rn" style="left:1935.35px;width:36.65px;top:647.68px;height:20px;line-height:20px;"><span>3</span></div>
<div class="t rn" style="left:1972px;width:36.65px;top:647.68px;height:20px;line-height:20px;"><span>2</span></div>
<div class="t rn" style="left:1294.3px;width:36.65px;top:666.73px;height:20px;line-height:20px;"><span>4</span></div>
<div class="t rn" style="left:1825.4px;width:36.65px;top:666.73px;height:20px;line-height:20px;"><span>4</span></div>
<div class="t rn" style="left:1898.7px;width:36.65px;top:666.73px;height:20px;line-height:20px;"><span>4</span></div>
<div class="t rn" style="left:1935.35px;width:36.65px;top:666.73px;height:20px;line-height:20px;"><span>2</span></div>
<div class="t rn" style="left:1972px;width:36.65px;top:666.73px;height:20px;line-height:20px;"><span>2</span></div>
<div class="t rn" style="left:1330.95px;width:36.65px;top:685.79px;height:20px;line-height:20px;"><span>5</span></div>
<div class="t rn" style="left:1367.6px;width:36.65px;top:685.79px;height:20px;line-height:20px;"><span>3</span></div>
<div class="t rn" style="left:1440.9px;width:36.65px;top:685.79px;height:20px;line-height:20px;"><span>3</span></div>
<div class="t rn" style="left:1660.8px;width:45.65px;top:685.79px;height:20px;line-height:20px;"><span>3</span></div>
<div class="t rn" style="left:1825.4px;width:36.65px;top:685.79px;height:20px;line-height:20px;"><span>3</span></div>
<div class="t rn" style="left:1862.05px;width:36.65px;top:685.79px;height:20px;line-height:20px;"><span>6</span></div>
<div class="t rn" style="left:1935.35px;width:36.65px;top:685.79px;height:20px;line-height:20px;"><span>5</span></div>
<div class="t rn" style="left:2118.6px;width:36.65px;top:685.79px;height:20px;line-height:20px;"><span>2</span></div>
<div class="t rn" style="left:1257.65px;width:36.65px;top:723.91px;height:20px;line-height:20px;"><span>2</span></div>
<div class="t rn" style="left:1477.55px;width:36.65px;top:723.91px;height:20px;line-height:20px;"><span>3</span></div>
<div class="t rn" style="left:1550.85px;width:36.65px;top:723.91px;height:20px;line-height:20px;"><span>3</span></div>
<div class="t rn" style="left:1825.4px;width:36.65px;top:723.91px;height:20px;line-height:20px;"><span>2</span></div>
<div class="t rn" style="left:1862.05px;width:36.65px;top:723.91px;height:20px;line-height:20px;"><span>2</span></div>
<div class="t rn" style="left:1898.7px;width:36.65px;top:723.91px;height:20px;line-height:20px;"><span>3</span></div>
<div class="t rn" style="left:1935.35px;width:36.65px;top:742.97px;height:20px;line-height:20px;"><span>4</span></div>
<div class="t rn" style="left:1257.65px;width:36.65px;top:762.03px;height:20px;line-height:20px;"><span>2</span></div>
<div class="t rn" style="left:1330.95px;width:36.65px;top:762.03px;height:20px;line-height:20px;"><span>3</span></div>
<div class="t rn" style="left:1624.15px;width:36.65px;top:762.03px;height:20px;line-height:20px;"><span>4</span></div>
<div class="t rn" style="left:1825.4px;width:36.65px;top:762.03px;height:20px;line-height:20px;"><span>2</span></div>
<div class="t rn" style="left:1862.05px;width:36.65px;top:762.03px;height:20px;line-height:20px;"><span>2</span></div>
<div class="t rn" style="left:1972px;width:36.65px;top:762.03px;height:20px;line-height:20px;"><span>5</span></div>
<div class="t rn" style="left:2081.95px;width:36.65px;top:762.03px;height:20px;line-height:20px;"><span>2</span></div>
<div class="t rn" style="left:1660.8px;width:45.65px;top:781.09px;height:20px;line-height:20px;"><span>4</span></div>
<div class="t rn" style="left:1935.35px;width:36.65px;top:781.09px;height:20px;line-height:20px;"><span>4</span></div>
<div class="t rn" style="left:1367.6px;width:36.65px;top:800.14px;height:20px;line-height:20px;"><span>4</span></div>
<div class="t rn" style="left:1514.2px;width:36.65px;top:800.14px;height:20px;line-height:20px;"><span>3</span></div>
<div class="t rn" style="left:1862.05px;width:36.65px;top:800.14px;height:20px;line-height:20px;"><span>6</span></div>
<div class="t rn" style="left:1898.7px;width:36.65px;top:800.14px;height:20px;line-height:20px;"><span>5</span></div>
<div class="t rn" style="left:1935.35px;width:36.65px;top:800.14px;height:20px;line-height:20px;"><span>2</span></div>
<div class="t rn" style="left:1514.2px;width:36.65px;top:819.2px;height:20px;line-height:20px;"><span>4</span></div>
<div class="t rn" style="left:1330.95px;width:36.65px;top:838.26px;height:20px;line-height:20px;"><span>4</span></div>
<div class="t rn" style="left:1367.6px;width:36.65px;top:838.26px;height:20px;line-height:20px;"><span>4</span></div>
<div class="t rn" style="left:1514.2px;width:36.65px;top:838.26px;height:20px;line-height:20px;"><span>4</span></div>
<div class="t rn" style="left:1587.5px;width:36.65px;top:838.26px;height:20px;line-height:20px;"><span>2</span></div>
<div class="t rn" style="left:1862.05px;width:36.65px;top:838.26px;height:20px;line-height:20px;"><span>6</span></div>
<div class="t rn" style="left:1898.7px;width:36.65px;top:838.26px;height:20px;line-height:20px;"><span>8</span></div>
<div class="t rn" style="left:1935.35px;width:36.65px;top:838.26px;height:20px;line-height:20px;"><span>7</span></div>
<div class="t rn" style="left:1660.8px;width:45.65px;top:857.32px;height:20px;line-height:20px;"><span>4</span></div>
<div class="t rn" style="left:1825.4px;width:36.65px;top:857.32px;height:20px;line-height:20px;"><span>6</span></div>
<div class="t rn" style="left:1972px;width:36.65px;top:857.32px;height:20px;line-height:20px;"><span>3</span></div>
<div class="t rn" style="left:2045.3px;width:36.65px;top:857.32px;height:20px;line-height:20px;"><span>2</span></div>
<div class="t rn" style="left:1514.2px;width:36.65px;top:876.38px;height:20px;line-height:20px;"><span>5</span></div>
<div class="t rn" style="left:1514.2px;width:36.65px;top:895.44px;height:20px;line-height:20px;"><span>7</span></div>
<div class="t rn" style="left:1330.95px;width:36.65px;top:914.5px;height:20px;line-height:20px;"><span>2</span></div>
<div class="t rn" style="left:1514.2px;width:36.65px;top:914.5px;height:20px;line-height:20px;"><span>2</span></div>
<div class="t rn" style="left:1862.05px;width:36.65px;top:914.5px;height:20px;line-height:20px;"><span>2</span></div>
<div class="t rn" style="left:1935.35px;width:36.65px;top:914.5px;height:20px;line-height:20px;"><span>2</span></div>
<div class="t rn" style="left:1972px;width:36.65px;top:914.5px;height:20px;line-height:20px;"><span>2</span></div>
<div class="t rn" style="left:1257.65px;width:36.65px;top:952.61px;height:20px;line-height:20px;"><span>13</span></div>
<div class="t rn" style="left:1477.55px;width:36.65px;top:952.61px;height:20px;line-height:20px;"><span>18</span></div>
<div class="t rn" style="left:1550.85px;width:36.65px;top:952.61px;height:20px;line-height:20px;"><span>3</span></div>
<div class="t rn" style="left:1587.5px;width:36.65px;top:952.61px;height:20px;line-height:20px;"><span>2</span></div>
<div class="t rn" style="left:1788.75px;width:36.65px;top:952.61px;height:20px;line-height:20px;"><span>4</span></div>
<div class="t rn" style="left:1862.05px;width:36.65px;top:952.61px;height:20px;line-height:20px;"><span>4</span></div>
<div class="t rn" style="left:1898.7px;width:36.65px;top:952.61px;height:20px;line-height:20px;"><span>8</span></div>
<div class="t rn" style="left:2118.6px;width:36.65px;top:952.61px;height:20px;line-height:20px;"><span>3</span></div>
<div class="t rn" style="left:1624.15px;width:36.65px;top:971.67px;height:20px;line-height:20px;"><span>7</span></div>
<div class="t rn" style="left:1862.05px;width:36.65px;top:971.67px;height:20px;line-height:20px;"><span>7</span></div>
<div class="t rn" style="left:1935.35px;width:36.65px;top:971.67px;height:20px;line-height:20px;"><span>3</span></div>
<div class="t rn" style="left:1972px;width:36.65px;top:971.67px;height:20px;line-height:20px;"><span>10</span></div>
<div class="t rn" style="left:2008.65px;width:36.65px;top:971.67px;height:20px;line-height:20px;"><span>10</span></div>
<div class="t rn" style="left:2118.6px;width:36.65px;top:971.67px;height:20px;line-height:20px;"><span>3</span></div>
<div class="t rn" style="left:1221px;width:36.65px;top:989px;height:20px;line-height:20px;"><span>10</span></div>
<div class="t rn" style="left:1440.9px;width:36.65px;top:989px;height:20px;line-height:20px;"><span>8</span></div>
<div class="t rn" style="left:1788.75px;width:36.65px;top:989px;height:20px;line-height:20px;"><span>10</span></div>
<div class="t rn" style="left:1862.05px;width:36.65px;top:989px;height:20px;line-height:20px;"><span>5</span></div>
<div class="t rn" style="left:1898.7px;width:36.65px;top:989px;height:20px;line-height:20px;"><span>4</span></div>
<div class="t rn" style="left:1935.35px;width:36.65px;top:989px;height:20px;line-height:20px;"><span>4</span></div>
<div class="t rn" style="left:2008.65px;width:36.65px;top:989px;height:20px;line-height:20px;"><span>6</span></div>
<div class="t rn" style="left:2008.65px;width:36.65px;top:1006.4px;height:20px;line-height:20px;"><span>5</span></div>
<div class="t rn" style="left:1404.25px;width:36.65px;top:1025.59px;height:20px;line-height:20px;"><span>2</span></div>
<div class="t rn" style="left:1440.9px;width:36.65px;top:1025.59px;height:20px;line-height:20px;"><span>2</span></div>
<div class="t rn" style="left:1514.2px;width:36.65px;top:1025.59px;height:20px;line-height:20px;"><span>3</span></div>
<div class="t rn" style="left:1587.5px;width:36.65px;top:1025.59px;height:20px;line-height:20px;"><span>2</span></div>
<div class="t rn" style="left:1624.15px;width:36.65px;top:1025.59px;height:20px;line-height:20px;"><span>2</span></div>
<div class="t rn" style="left:1706.45px;width:45.65px;top:1025.59px;height:20px;line-height:20px;"><span>3</span></div>
<div class="t rn" style="left:1862.05px;width:36.65px;top:1025.59px;height:20px;line-height:20px;"><span>7</span></div>
<div class="t rn" style="left:1972px;width:36.65px;top:1025.59px;height:20px;line-height:20px;"><span>3</span></div>
<div class="t rn" style="left:2008.65px;width:36.65px;top:1025.59px;height:20px;line-height:20px;"><span>3</span></div>
<div class="t rn" style="left:2045.3px;width:36.65px;top:1025.59px;height:20px;line-height:20px;"><span>4</span></div>
<div class="t rn" style="left:1294.3px;width:36.65px;top:1044.78px;height:20px;line-height:20px;"><span>7</span></div>
<div class="t rn" style="left:1587.5px;width:36.65px;top:1044.78px;height:20px;line-height:20px;"><span>2</span></div>
<div class="t rn" style="left:1624.15px;width:36.65px;top:1044.78px;height:20px;line-height:20px;"><span>2</span></div>
<div class="t rn" style="left:1660.8px;width:45.65px;top:1044.78px;height:20px;line-height:20px;"><span>2</span></div>
<div class="t rn" style="left:1706.45px;width:45.65px;top:1044.78px;height:20px;line-height:20px;"><span>2</span></div>
<div class="t rn" style="left:1862.05px;width:36.65px;top:1044.78px;height:20px;line-height:20px;"><span>3</span></div>
<div class="t rn" style="left:1972px;width:36.65px;top:1044.78px;height:20px;line-height:20px;"><span>2</span></div>
<div class="t rn" style="left:1367.6px;width:36.65px;top:1063.97px;height:20px;line-height:20px;"><span>5</span></div>
<div class="t rn" style="left:1788.75px;width:36.65px;top:1063.97px;height:20px;line-height:20px;"><span>10</span></div>
<div class="t rn" style="left:1660.8px;width:45.65px;top:1083.16px;height:20px;line-height:20px;"><span>5</span></div>
<div class="t rn" style="left:1825.4px;width:36.65px;top:1083.16px;height:20px;line-height:20px;"><span>10</span></div>
<div class="t rn" style="left:1550.85px;width:36.65px;top:1102.36px;height:20px;line-height:20px;"><span>5</span></div>
<div class="t rn" style="left:1660.8px;width:45.65px;top:1102.36px;height:20px;line-height:20px;"><span>9</span></div>
<div class="t rn" style="left:1752.1px;width:36.65px;top:1102.36px;height:20px;line-height:20px;"><span>5</span></div>
<div class="t rn" style="left:1367.6px;width:36.65px;top:1121.55px;height:20px;line-height:20px;"><span>5</span></div>
<div class="t rn" style="left:1514.2px;width:36.65px;top:1121.55px;height:20px;line-height:20px;"><span>10</span></div>
<div class="t rn" style="left:1788.75px;width:36.65px;top:1121.55px;height:20px;line-height:20px;"><span>15</span></div>
<div class="t rn" style="left:1825.4px;width:36.65px;top:1121.55px;height:20px;line-height:20px;"><span>15</span></div>
<div class="t rn" style="left:1367.6px;width:36.65px;top:1140.74px;height:20px;line-height:20px;"><span>6</span></div>
<div class="t rn" style="left:1514.2px;width:36.65px;top:1140.74px;height:20px;line-height:20px;"><span>7</span></div>
<div class="t rn" style="left:1550.85px;width:36.65px;top:1140.74px;height:20px;line-height:20px;"><span>6</span></div>
<div class="t rn" style="left:1752.1px;width:36.65px;top:1140.74px;height:20px;line-height:20px;"><span>12</span></div>
<div class="t rn" style="left:1788.75px;width:36.65px;top:1140.74px;height:20px;line-height:20px;"><span>5</span></div>
<div class="t rn" style="left:1825.4px;width:36.65px;top:1140.74px;height:20px;line-height:20px;"><span>5</span></div>
<div class="t rn" style="left:1367.6px;width:36.65px;top:1159.93px;height:20px;line-height:20px;"><span>2</span></div>
<div class="t rn" style="left:1440.9px;width:36.65px;top:1159.93px;height:20px;line-height:20px;"><span>7</span></div>
<div class="t rn" style="left:1587.5px;width:36.65px;top:1159.93px;height:20px;line-height:20px;"><span>2</span></div>
<div class="t rn" style="left:1862.05px;width:36.65px;top:1159.93px;height:20px;line-height:20px;"><span>4</span></div>
<div class="t rn" style="left:1935.35px;width:36.65px;top:1159.93px;height:20px;line-height:20px;"><span>5</span></div>
<div class="t rn" style="left:1972px;width:36.65px;top:1159.93px;height:20px;line-height:20px;"><span>3</span></div>
<div class="t rn" style="left:1257.65px;width:36.65px;top:1198.32px;height:20px;line-height:20px;"><span>10</span></div>
<div class="t rn" style="left:1367.6px;width:36.65px;top:1198.32px;height:20px;line-height:20px;"><span>2</span></div>
<div class="t rn" style="left:1440.9px;width:36.65px;top:1198.32px;height:20px;line-height:20px;"><span>6</span></div>
<div class="t rn" style="left:1587.5px;width:36.65px;top:1198.32px;height:20px;line-height:20px;"><span>3</span></div>
<div class="t rn" style="left:1862.05px;width:36.65px;top:1198.32px;height:20px;line-height:20px;"><span>5</span></div>
<div class="t rn" style="left:1935.35px;width:36.65px;top:1198.32px;height:20px;line-height:20px;"><span>3</span></div>
<div class="t rn" style="left:1972px;width:36.65px;top:1198.32px;height:20px;line-height:20px;"><span>4</span></div>
<div class="t rn" style="left:1221px;width:36.65px;top:1255.89px;height:20px;line-height:20px;"><span>13</span></div>
<div class="t rn" style="left:1257.65px;width:36.65px;top:1255.89px;height:20px;line-height:20px;"><span>45</span></div>
<div class="t rn" style="left:1294.3px;width:36.65px;top:1255.89px;height:20px;line-height:20px;"><span>30</span></div>
<div class="t rn" style="left:1330.95px;width:36.65px;top:1255.89px;height:20px;line-height:20px;"><span>21</span></div>
<div class="t rn" style="left:1367.6px;width:36.65px;top:1255.89px;height:20px;line-height:20px;"><span>36</span></div>
<div class="t rn" style="left:1404.25px;width:36.65px;top:1255.89px;height:20px;line-height:20px;"><span>6</span></div>
<div class="t rn" style="left:1440.9px;width:36.65px;top:1255.89px;height:20px;line-height:20px;"><span>40</span></div>
<div class="t rn" style="left:1477.55px;width:36.65px;top:1255.89px;height:20px;line-height:20px;"><span>31</span></div>
<div class="t rn" style="left:1514.2px;width:36.65px;top:1255.89px;height:20px;line-height:20px;"><span>47</span></div>
<div class="t rn" style="left:1550.85px;width:36.65px;top:1255.89px;height:20px;line-height:20px;"><span>20</span></div>
<div class="t rn" style="left:1587.5px;width:36.65px;top:1255.89px;height:20px;line-height:20px;"><span>20</span></div>
<div class="t rn" style="left:1624.15px;width:36.65px;top:1255.89px;height:20px;line-height:20px;"><span>26</span></div>
<div class="t rn" style="left:1660.8px;width:45.65px;top:1255.89px;height:20px;line-height:20px;"><span>35</span></div>
<div class="t rn" style="left:1706.45px;width:45.65px;top:1255.89px;height:20px;line-height:20px;"><span>10</span></div>
<div class="t rn" style="left:1752.1px;width:36.65px;top:1255.89px;height:20px;line-height:20px;"><span>25</span></div>
<div class="t rn" style="left:1788.75px;width:36.65px;top:1255.89px;height:20px;line-height:20px;"><span>60</span></div>
<div class="t rn" style="left:1825.4px;width:36.65px;top:1255.89px;height:20px;line-height:20px;"><span>90</span></div>
<div class="t rn" style="left:1862.05px;width:36.65px;top:1255.89px;height:20px;line-height:20px;"><span>104</span></div>
<div class="t rn" style="left:1898.7px;width:36.65px;top:1255.89px;height:20px;line-height:20px;"><span>53</span></div>
<div class="t rn" style="left:1935.35px;width:36.65px;top:1255.89px;height:20px;line-height:20px;"><span>73</span></div>
<div class="t rn" style="left:1972px;width:36.65px;top:1255.89px;height:20px;line-height:20px;"><span>54</span></div>
<div class="t rn" style="left:2008.65px;width:36.65px;top:1255.89px;height:20px;line-height:20px;"><span>30</span></div>
<div class="t rn" style="left:2045.3px;width:36.65px;top:1255.89px;height:20px;line-height:20px;"><span>13</span></div>
<div class="t rn" style="left:2081.95px;width:36.65px;top:1255.89px;height:20px;line-height:20px;"><span>11</span></div>
<div class="t rn" style="left:2118.6px;width:36.65px;top:1255.89px;height:20px;line-height:20px;"><span>20</span></div>
<div class="hdr" style="left:1221px;top:1498px;font-size:16px;line-height:24px;letter-spacing:0.75px;color:#231f20">注<span style="font-feature-settings:'palt'">：</span>实际招生计划及院校专业组代码以各省招生部门官方公布的为准。</div>
<svg class="b" style="left:0;top:0" width="2220" height="1571" viewBox="0 0 2220 1571">
<defs>
<linearGradient id="gl" x1="0" x2="1" y1="0" y2="0"><stop offset="0" stop-color="#1b62ad"/><stop offset="0.45" stop-color="#2b8bca"/><stop offset="1" stop-color="#2fa2d8"/></linearGradient>
<linearGradient id="gr" x1="0" x2="1" y1="0" y2="0"><stop offset="0" stop-color="#2fa2d8"/><stop offset="0.55" stop-color="#2b8bca"/><stop offset="1" stop-color="#1b62ad"/></linearGradient>
</defs>
<polygon points="0,1496.1 96.9,1496.1 126.3,1528.8 0,1528.8" fill="url(#gl)"/>
<polygon points="107.2,1496.1 127.5,1496.1 157.7,1528.8 137.1,1528.8" fill="#20b26b"/>
<polygon points="2090.3,1494.6 2110.5,1494.6 2080.4,1527.4 2060.2,1527.4" fill="#20b26b"/>
<polygon points="2120.9,1494.6 2218.7,1494.6 2218.7,1527.4 2091.2,1527.4" fill="url(#gr)"/>
</svg>
<div class="hdr" style="left:33px;width:60px;text-align:center;top:1500px;font-size:22px;line-height:24px;color:#fff">21</div>
<div class="hdr" style="left:2111px;width:60px;text-align:center;top:1499px;font-size:22px;line-height:24px;color:#fff">22</div>
</body></html>
